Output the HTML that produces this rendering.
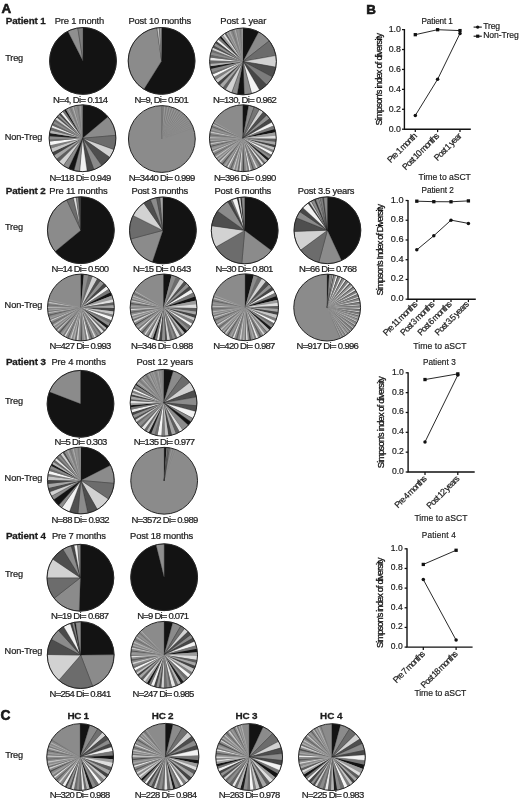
<!DOCTYPE html>
<html lang="en"><head><meta charset="utf-8"><title>Figure</title>
<style>html,body{margin:0;padding:0;background:#fff}svg{display:block;will-change:transform}text{font-family:"Liberation Sans",Arial,sans-serif;fill:#1c1c1c}</style>
</head><body>
<svg width="520" height="799" viewBox="0 0 520 799">
<rect width="520" height="799" fill="#ffffff"/>
<text x="1.60" y="13.30" font-size="13.4" font-weight="bold" fill="#0a0a0a" stroke="#0a0a0a" stroke-width="0.55">A</text>
<text x="366.30" y="13.70" font-size="13.4" font-weight="bold" fill="#0a0a0a" stroke="#0a0a0a" stroke-width="0.55">B</text>
<text x="0.60" y="720.40" font-size="13.8" font-weight="bold" fill="#0a0a0a" stroke="#0a0a0a" stroke-width="0.55">C</text>
<text x="5.80" y="23.60" font-size="9.8" font-weight="bold" textLength="40.00" lengthAdjust="spacing" stroke="#1c1c1c" stroke-width="0.3">Patient 1</text>
<text x="54.70" y="23.60" font-size="9.4" textLength="49.50" lengthAdjust="spacing" stroke="#1c1c1c" stroke-width="0.22">Pre 1 month</text>
<text x="128.50" y="23.60" font-size="9.4" textLength="62.80" lengthAdjust="spacing" stroke="#1c1c1c" stroke-width="0.22">Post 10 months</text>
<text x="220.30" y="23.60" font-size="9.4" textLength="46.00" lengthAdjust="spacing" stroke="#1c1c1c" stroke-width="0.22">Post 1 year</text>
<text x="5.20" y="61.30" font-size="9.2" textLength="18.00" lengthAdjust="spacing" stroke="#1c1c1c" stroke-width="0.22">Treg</text>
<text x="4.70" y="139.60" font-size="9.2" textLength="37.60" lengthAdjust="spacing" stroke="#1c1c1c" stroke-width="0.22">Non-Treg</text>
<g>
<circle cx="83.00" cy="60.95" r="33.40" fill="#8b8b8b"/>
<path d="M83.00 60.95L83.00 27.55A33.40 33.40 0 1 1 67.84 31.19Z" fill="#131313" stroke="#222" stroke-width="0.3"/>
<path d="M83.00 60.95L67.84 31.19A33.40 33.40 0 0 1 77.78 27.96Z" fill="#8f8f8f" stroke="#222" stroke-width="0.3"/>
<path d="M83.00 60.95L77.78 27.96A33.40 33.40 0 0 1 83.00 27.55Z" fill="#7d7d7d" stroke="#222" stroke-width="0.3"/>
<circle cx="83.00" cy="60.95" r="33.40" fill="none" stroke="#262626" stroke-width="1"/>
</g>
<g>
<circle cx="161.60" cy="60.90" r="33.40" fill="#8b8b8b"/>
<path d="M161.60 60.90L161.60 27.50A33.40 33.40 0 1 1 143.90 89.22Z" fill="#131313" stroke="#222" stroke-width="0.3"/>
<path d="M161.60 60.90L143.90 89.22A33.40 33.40 0 0 1 156.95 27.83Z" fill="#8b8b8b" stroke="#222" stroke-width="0.3"/>
<path d="M161.60 60.90L156.95 27.83A33.40 33.40 0 0 1 159.27 27.58Z" fill="#c8c8c8" stroke="#222" stroke-width="0.3"/>
<path d="M161.60 60.90L159.27 27.58A33.40 33.40 0 0 1 161.60 27.50Z" fill="#9a9a9a" stroke="#222" stroke-width="0.3"/>
<circle cx="161.60" cy="60.90" r="33.40" fill="none" stroke="#262626" stroke-width="1"/>
</g>
<g>
<circle cx="243.00" cy="61.40" r="33.40" fill="#8b8b8b"/>
<path d="M243.00 61.40L243.00 28.00A33.40 33.40 0 0 1 258.68 31.91Z" fill="#131313" stroke="#222" stroke-width="0.3"/>
<path d="M243.00 61.40L258.68 31.91A33.40 33.40 0 0 1 269.32 40.84Z" fill="#8b8b8b" stroke="#222" stroke-width="0.3"/>
<path d="M243.00 61.40L269.32 40.84A33.40 33.40 0 0 1 275.89 55.60Z" fill="#6c6c6c" stroke="#222" stroke-width="0.3"/>
<path d="M243.00 61.40L275.89 55.60A33.40 33.40 0 0 1 275.89 67.20Z" fill="#d2d2d2" stroke="#222" stroke-width="0.3"/>
<path d="M243.00 61.40L275.89 67.20A33.40 33.40 0 0 1 272.49 77.08Z" fill="#4e4e4e" stroke="#222" stroke-width="0.3"/>
<path d="M243.00 61.40L272.49 77.08A33.40 33.40 0 0 1 266.62 85.02Z" fill="#7c7c7c" stroke="#222" stroke-width="0.3"/>
<path d="M243.00 61.40L266.62 85.02A33.40 33.40 0 0 1 259.70 90.33Z" fill="#464646" stroke="#222" stroke-width="0.3"/>
<path d="M243.00 61.40L259.70 90.33A33.40 33.40 0 0 1 251.64 93.66Z" fill="#f2f2f2" stroke="#222" stroke-width="0.3"/>
<path d="M243.00 61.40L251.64 93.66A33.40 33.40 0 0 1 244.17 94.78Z" fill="#8b8b8b" stroke="#222" stroke-width="0.3"/>
<path d="M243.00 61.40L244.17 94.78A33.40 33.40 0 0 1 237.20 94.29Z" fill="#131313" stroke="#222" stroke-width="0.3"/>
<path d="M243.00 61.40L237.20 94.29A33.40 33.40 0 0 1 231.58 92.79Z" fill="#8b8b8b" stroke="#222" stroke-width="0.3"/>
<path d="M243.00 61.40L231.58 92.79A33.40 33.40 0 0 1 225.30 89.72Z" fill="#d2d2d2" stroke="#222" stroke-width="0.3"/>
<path d="M243.00 61.40L225.30 89.72A33.40 33.40 0 0 1 222.52 87.78Z" fill="#5e5e5e"/>
<path d="M243.00 61.40L222.52 87.78A33.40 33.40 0 0 1 219.70 85.33Z" fill="#a6a6a6"/>
<path d="M243.00 61.40L219.70 85.33A33.40 33.40 0 0 1 217.42 82.87Z" fill="#444444"/>
<path d="M243.00 61.40L217.42 82.87A33.40 33.40 0 0 1 215.26 80.01Z" fill="#c6c6c6"/>
<path d="M243.00 61.40L215.26 80.01A33.40 33.40 0 0 1 213.47 77.01Z" fill="#7e7e7e"/>
<path d="M243.00 61.40L213.47 77.01A33.40 33.40 0 0 1 212.32 74.61Z" fill="#f6f6f6"/>
<path d="M243.00 61.40L212.32 74.61A33.40 33.40 0 0 1 211.41 72.25Z" fill="#6e6e6e"/>
<path d="M243.00 61.40L211.41 72.25A33.40 33.40 0 0 1 210.45 68.91Z" fill="#8b8b8b"/>
<path d="M243.00 61.40L210.45 68.91A33.40 33.40 0 0 1 209.96 66.27Z" fill="#1c1c1c"/>
<path d="M243.00 61.40L209.96 66.27A33.40 33.40 0 0 1 209.68 63.69Z" fill="#b4b4b4"/>
<path d="M243.00 61.40L209.68 63.69A33.40 33.40 0 0 1 209.62 60.30Z" fill="#686868"/>
<path d="M243.00 61.40L209.62 60.30A33.40 33.40 0 0 1 209.82 57.60Z" fill="#e6e6e6"/>
<path d="M243.00 61.40L209.82 57.60A33.40 33.40 0 0 1 210.30 54.61Z" fill="#666666"/>
<path d="M243.00 61.40L210.30 54.61A33.40 33.40 0 0 1 210.92 52.11Z" fill="#8b8b8b"/>
<path d="M243.00 61.40L210.92 52.11A33.40 33.40 0 0 1 211.77 49.57Z" fill="#6c6c6c"/>
<path d="M243.00 61.40L211.77 49.57A33.40 33.40 0 0 1 212.58 47.60Z" fill="#d2d2d2"/>
<path d="M243.00 61.40L212.58 47.60A33.40 33.40 0 0 1 213.73 45.31Z" fill="#505050"/>
<path d="M243.00 61.40L213.73 45.31A33.40 33.40 0 0 1 215.14 42.99Z" fill="#929292"/>
<path d="M243.00 61.40L215.14 42.99A33.40 33.40 0 0 1 216.49 41.08Z" fill="#464646"/>
<path d="M243.00 61.40L216.49 41.08A33.40 33.40 0 0 1 218.07 39.17Z" fill="#f0f0f0"/>
<path d="M243.00 61.40L218.07 39.17A33.40 33.40 0 0 1 219.70 37.47Z" fill="#767676"/>
<path d="M243.00 61.40L219.70 37.47A33.40 33.40 0 0 1 221.02 36.26Z" fill="#141414"/>
<path d="M243.00 61.40L221.02 36.26A33.40 33.40 0 0 1 222.84 34.77Z" fill="#9c9c9c"/>
<path d="M243.00 61.40L222.84 34.77A33.40 33.40 0 0 1 224.60 33.53Z" fill="#dedede"/>
<path d="M243.00 61.40L224.60 33.53A33.40 33.40 0 0 1 226.19 32.54Z" fill="#5e5e5e"/>
<path d="M243.00 61.40L226.19 32.54A33.40 33.40 0 0 1 227.32 31.91Z" fill="#a6a6a6"/>
<path d="M243.00 61.40L227.32 31.91A33.40 33.40 0 0 1 228.82 31.16Z" fill="#8b8b8b"/>
<path d="M243.00 61.40L228.82 31.16A33.40 33.40 0 0 1 230.16 30.57Z" fill="#aaaaaa"/>
<path d="M243.00 61.40L230.16 30.57A33.40 33.40 0 0 1 231.57 30.02Z" fill="#8b8b8b"/>
<path d="M243.00 61.40L231.57 30.02A33.40 33.40 0 0 1 233.04 29.52Z" fill="#787878"/>
<path d="M243.00 61.40L233.04 29.52A33.40 33.40 0 0 1 234.41 29.12Z" fill="#8b8b8b"/>
<path d="M243.00 61.40L234.41 29.12A33.40 33.40 0 0 1 235.83 28.78Z" fill="#ababab"/>
<path d="M243.00 61.40L235.83 28.78A33.40 33.40 0 0 1 237.03 28.54Z" fill="#858585"/>
<path d="M243.00 61.40L237.03 28.54A33.40 33.40 0 0 1 238.35 28.32Z" fill="#939393"/>
<path d="M243.00 61.40L238.35 28.32A33.40 33.40 0 0 1 239.52 28.18Z" fill="#8b8b8b"/>
<path d="M243.00 61.40L239.52 28.18A33.40 33.40 0 0 1 240.82 28.07Z" fill="#7a7a7a"/>
<path d="M243.00 61.40L240.82 28.07A33.40 33.40 0 0 1 242.07 28.01Z" fill="#8b8b8b"/>
<path d="M243.00 61.40L242.07 28.01A33.40 33.40 0 0 1 243.00 28.00Z" fill="#9b9b9b"/>
<circle cx="243.00" cy="61.40" r="33.40" fill="none" stroke="#262626" stroke-width="1"/>
</g>
<text x="53.00" y="102.80" font-size="9.5" textLength="55.10" lengthAdjust="spacing" stroke="#1c1c1c" stroke-width="0.22">N=4, Di= 0.114</text>
<text x="134.50" y="102.80" font-size="9.5" textLength="54.20" lengthAdjust="spacing" stroke="#1c1c1c" stroke-width="0.22">N=9, Di= 0.501</text>
<text x="213.00" y="102.80" font-size="9.5" textLength="63.90" lengthAdjust="spacing" stroke="#1c1c1c" stroke-width="0.22">N=130, Di= 0.962</text>
<g>
<circle cx="82.50" cy="138.25" r="33.40" fill="#8b8b8b"/>
<path d="M82.50 138.25L82.50 104.85A33.40 33.40 0 0 1 108.09 116.78Z" fill="#131313" stroke="#222" stroke-width="0.3"/>
<path d="M82.50 138.25L108.09 116.78A33.40 33.40 0 0 1 115.77 135.34Z" fill="#8b8b8b" stroke="#222" stroke-width="0.3"/>
<path d="M82.50 138.25L115.77 135.34A33.40 33.40 0 0 1 113.89 149.67Z" fill="#6c6c6c" stroke="#222" stroke-width="0.3"/>
<path d="M82.50 138.25L113.89 149.67A33.40 33.40 0 0 1 109.86 157.41Z" fill="#d2d2d2" stroke="#222" stroke-width="0.3"/>
<path d="M82.50 138.25L109.86 157.41A33.40 33.40 0 0 1 101.66 165.61Z" fill="#4e4e4e" stroke="#222" stroke-width="0.3"/>
<path d="M82.50 138.25L101.66 165.61A33.40 33.40 0 0 1 93.92 169.64Z" fill="#8b8b8b" stroke="#222" stroke-width="0.3"/>
<path d="M82.50 138.25L93.92 169.64A33.40 33.40 0 0 1 87.15 171.32Z" fill="#4a4a4a" stroke="#222" stroke-width="0.3"/>
<path d="M82.50 138.25L87.15 171.32A33.40 33.40 0 0 1 79.59 171.52Z" fill="#f2f2f2" stroke="#222" stroke-width="0.3"/>
<path d="M82.50 138.25L79.59 171.52A33.40 33.40 0 0 1 73.86 170.51Z" fill="#8b8b8b" stroke="#222" stroke-width="0.3"/>
<path d="M82.50 138.25L73.86 170.51A33.40 33.40 0 0 1 68.38 168.52Z" fill="#131313" stroke="#222" stroke-width="0.3"/>
<path d="M82.50 138.25L68.38 168.52A33.40 33.40 0 0 1 63.34 165.61Z" fill="#8b8b8b" stroke="#222" stroke-width="0.3"/>
<path d="M82.50 138.25L63.34 165.61A33.40 33.40 0 0 1 58.88 161.87Z" fill="#d2d2d2" stroke="#222" stroke-width="0.3"/>
<path d="M82.50 138.25L58.88 161.87A33.40 33.40 0 0 1 56.25 158.90Z" fill="#5e5e5e"/>
<path d="M82.50 138.25L56.25 158.90A33.40 33.40 0 0 1 53.97 155.62Z" fill="#a6a6a6"/>
<path d="M82.50 138.25L53.97 155.62A33.40 33.40 0 0 1 52.15 152.19Z" fill="#444444"/>
<path d="M82.50 138.25L52.15 152.19A33.40 33.40 0 0 1 50.72 148.53Z" fill="#c6c6c6"/>
<path d="M82.50 138.25L50.72 148.53A33.40 33.40 0 0 1 49.82 145.13Z" fill="#7e7e7e"/>
<path d="M82.50 138.25L49.82 145.13A33.40 33.40 0 0 1 49.26 141.57Z" fill="#f6f6f6"/>
<path d="M82.50 138.25L49.26 141.57A33.40 33.40 0 0 1 49.11 139.16Z" fill="#6e6e6e"/>
<path d="M82.50 138.25L49.11 139.16A33.40 33.40 0 0 1 49.16 136.30Z" fill="#8b8b8b"/>
<path d="M82.50 138.25L49.16 136.30A33.40 33.40 0 0 1 49.51 133.01Z" fill="#1c1c1c"/>
<path d="M82.50 138.25L49.51 133.01A33.40 33.40 0 0 1 50.09 130.19Z" fill="#b4b4b4"/>
<path d="M82.50 138.25L50.09 130.19A33.40 33.40 0 0 1 50.96 127.27Z" fill="#686868"/>
<path d="M82.50 138.25L50.96 127.27A33.40 33.40 0 0 1 51.73 125.25Z" fill="#e6e6e6"/>
<path d="M82.50 138.25L51.73 125.25A33.40 33.40 0 0 1 52.77 123.02Z" fill="#666666"/>
<path d="M82.50 138.25L52.77 123.02A33.40 33.40 0 0 1 53.83 121.12Z" fill="#8b8b8b"/>
<path d="M82.50 138.25L53.83 121.12A33.40 33.40 0 0 1 55.14 119.09Z" fill="#6c6c6c"/>
<path d="M82.50 138.25L55.14 119.09A33.40 33.40 0 0 1 56.58 117.19Z" fill="#d2d2d2"/>
<path d="M82.50 138.25L56.58 117.19A33.40 33.40 0 0 1 57.76 115.81Z" fill="#505050"/>
<path d="M82.50 138.25L57.76 115.81A33.40 33.40 0 0 1 59.12 114.40Z" fill="#929292"/>
<path d="M82.50 138.25L59.12 114.40A33.40 33.40 0 0 1 60.57 113.06Z" fill="#464646"/>
<path d="M82.50 138.25L60.57 113.06A33.40 33.40 0 0 1 62.49 111.50Z" fill="#f0f0f0"/>
<path d="M82.50 138.25L62.49 111.50A33.40 33.40 0 0 1 64.37 110.20Z" fill="#767676"/>
<path d="M82.50 138.25L64.37 110.20A33.40 33.40 0 0 1 65.80 109.32Z" fill="#141414"/>
<path d="M82.50 138.25L65.80 109.32A33.40 33.40 0 0 1 67.25 108.54Z" fill="#8b8b8b"/>
<path d="M82.50 138.25L67.25 108.54A33.40 33.40 0 0 1 68.43 107.96Z" fill="#aaaaaa"/>
<path d="M82.50 138.25L68.43 107.96A33.40 33.40 0 0 1 69.79 107.36Z" fill="#8b8b8b"/>
<path d="M82.50 138.25L69.79 107.36A33.40 33.40 0 0 1 70.95 106.91Z" fill="#787878"/>
<path d="M82.50 138.25L70.95 106.91A33.40 33.40 0 0 1 72.05 106.53Z" fill="#8b8b8b"/>
<path d="M82.50 138.25L72.05 106.53A33.40 33.40 0 0 1 73.47 106.09Z" fill="#adadad"/>
<path d="M82.50 138.25L73.47 106.09A33.40 33.40 0 0 1 74.62 105.79Z" fill="#848484"/>
<path d="M82.50 138.25L74.62 105.79A33.40 33.40 0 0 1 75.75 105.54Z" fill="#939393"/>
<path d="M82.50 138.25L75.75 105.54A33.40 33.40 0 0 1 77.14 105.28Z" fill="#8b8b8b"/>
<path d="M82.50 138.25L77.14 105.28A33.40 33.40 0 0 1 78.46 105.09Z" fill="#787878"/>
<path d="M82.50 138.25L78.46 105.09A33.40 33.40 0 0 1 79.55 104.98Z" fill="#8b8b8b"/>
<path d="M82.50 138.25L79.55 104.98A33.40 33.40 0 0 1 80.84 104.89Z" fill="#9e9e9e"/>
<path d="M82.50 138.25L80.84 104.89A33.40 33.40 0 0 1 81.96 104.85Z" fill="#848484"/>
<path d="M82.50 138.25L81.96 104.85A33.40 33.40 0 0 1 82.50 104.85Z" fill="#939393"/>
<circle cx="82.50" cy="138.25" r="33.40" fill="none" stroke="#262626" stroke-width="1"/>
</g>
<g>
<circle cx="161.85" cy="139.00" r="33.40" fill="#8b8b8b"/>
<line x1="161.85" y1="139.00" x2="161.85" y2="105.60" stroke="#404040" stroke-opacity="0.8" stroke-width="0.55"/>
<line x1="162.03" y1="135.00" x2="163.37" y2="105.63" stroke="#4a4a4a" stroke-opacity="0.58" stroke-width="0.45"/>
<line x1="162.21" y1="135.01" x2="164.86" y2="105.74" stroke="#c4c4c4" stroke-opacity="0.57" stroke-width="0.45"/>
<line x1="162.39" y1="135.03" x2="166.33" y2="105.90" stroke="#4a4a4a" stroke-opacity="0.55" stroke-width="0.45"/>
<line x1="162.56" y1="135.06" x2="167.77" y2="106.13" stroke="#c4c4c4" stroke-opacity="0.53" stroke-width="0.45"/>
<line x1="162.73" y1="135.09" x2="169.18" y2="106.41" stroke="#4a4a4a" stroke-opacity="0.52" stroke-width="0.45"/>
<line x1="162.90" y1="135.13" x2="170.56" y2="106.76" stroke="#c4c4c4" stroke-opacity="0.50" stroke-width="0.45"/>
<line x1="163.06" y1="135.18" x2="171.91" y2="107.15" stroke="#4a4a4a" stroke-opacity="0.48" stroke-width="0.45"/>
<line x1="163.21" y1="135.23" x2="173.22" y2="107.59" stroke="#c4c4c4" stroke-opacity="0.47" stroke-width="0.45"/>
<line x1="163.37" y1="135.29" x2="174.50" y2="108.09" stroke="#4a4a4a" stroke-opacity="0.45" stroke-width="0.45"/>
<line x1="163.52" y1="135.35" x2="175.74" y2="108.62" stroke="#c4c4c4" stroke-opacity="0.44" stroke-width="0.45"/>
<line x1="163.66" y1="135.42" x2="176.94" y2="109.20" stroke="#4a4a4a" stroke-opacity="0.42" stroke-width="0.45"/>
<line x1="163.80" y1="135.50" x2="178.10" y2="109.82" stroke="#c4c4c4" stroke-opacity="0.41" stroke-width="0.45"/>
<line x1="163.94" y1="135.58" x2="179.23" y2="110.48" stroke="#4a4a4a" stroke-opacity="0.39" stroke-width="0.45"/>
<line x1="164.07" y1="135.66" x2="180.31" y2="111.17" stroke="#c4c4c4" stroke-opacity="0.38" stroke-width="0.45"/>
<line x1="164.19" y1="135.75" x2="181.36" y2="111.89" stroke="#4a4a4a" stroke-opacity="0.36" stroke-width="0.45"/>
<line x1="164.31" y1="135.84" x2="182.36" y2="112.64" stroke="#c4c4c4" stroke-opacity="0.35" stroke-width="0.45"/>
<line x1="164.43" y1="135.93" x2="183.32" y2="113.41" stroke="#4a4a4a" stroke-opacity="0.33" stroke-width="0.45"/>
<line x1="164.54" y1="136.03" x2="184.24" y2="114.22" stroke="#c4c4c4" stroke-opacity="0.32" stroke-width="0.45"/>
<line x1="164.64" y1="136.12" x2="185.12" y2="115.04" stroke="#4a4a4a" stroke-opacity="0.31" stroke-width="0.45"/>
<line x1="164.74" y1="136.23" x2="185.96" y2="115.88" stroke="#c4c4c4" stroke-opacity="0.29" stroke-width="0.45"/>
<line x1="164.84" y1="136.33" x2="186.76" y2="116.75" stroke="#4a4a4a" stroke-opacity="0.28" stroke-width="0.45"/>
<line x1="164.93" y1="136.44" x2="187.52" y2="117.63" stroke="#c4c4c4" stroke-opacity="0.27" stroke-width="0.45"/>
<line x1="165.02" y1="136.54" x2="188.23" y2="118.52" stroke="#4a4a4a" stroke-opacity="0.25" stroke-width="0.45"/>
<line x1="165.10" y1="136.65" x2="188.91" y2="119.42" stroke="#c4c4c4" stroke-opacity="0.24" stroke-width="0.45"/>
<line x1="165.17" y1="136.76" x2="189.55" y2="120.34" stroke="#4a4a4a" stroke-opacity="0.23" stroke-width="0.45"/>
<line x1="165.25" y1="136.87" x2="190.15" y2="121.26" stroke="#c4c4c4" stroke-opacity="0.21" stroke-width="0.45"/>
<line x1="165.31" y1="136.98" x2="190.71" y2="122.20" stroke="#4a4a4a" stroke-opacity="0.20" stroke-width="0.45"/>
<line x1="165.38" y1="137.10" x2="191.24" y2="123.13" stroke="#c4c4c4" stroke-opacity="0.19" stroke-width="0.45"/>
<line x1="165.44" y1="137.21" x2="191.73" y2="124.08" stroke="#4a4a4a" stroke-opacity="0.18" stroke-width="0.45"/>
<line x1="165.49" y1="137.32" x2="192.18" y2="125.02" stroke="#c4c4c4" stroke-opacity="0.16" stroke-width="0.45"/>
<line x1="165.54" y1="137.44" x2="192.60" y2="125.97" stroke="#4a4a4a" stroke-opacity="0.15" stroke-width="0.45"/>
<line x1="165.59" y1="137.55" x2="192.99" y2="126.91" stroke="#c4c4c4" stroke-opacity="0.14" stroke-width="0.45"/>
<line x1="165.63" y1="137.66" x2="193.34" y2="127.86" stroke="#4a4a4a" stroke-opacity="0.13" stroke-width="0.45"/>
<circle cx="161.85" cy="139.00" r="33.40" fill="none" stroke="#262626" stroke-width="1"/>
</g>
<g>
<circle cx="242.85" cy="138.25" r="33.40" fill="#8b8b8b"/>
<path d="M242.85 138.25L242.85 104.85A33.40 33.40 0 0 1 248.65 105.36Z" fill="#131313" stroke="#222" stroke-width="0.3"/>
<path d="M242.85 138.25L248.65 105.36A33.40 33.40 0 0 1 254.27 106.86Z" fill="#8b8b8b" stroke="#222" stroke-width="0.3"/>
<path d="M242.85 138.25L254.27 106.86A33.40 33.40 0 0 1 259.55 109.32Z" fill="#767676" stroke="#222" stroke-width="0.3"/>
<path d="M242.85 138.25L259.55 109.32A33.40 33.40 0 0 1 263.41 111.93Z" fill="#d2d2d2" stroke="#222" stroke-width="0.3"/>
<path d="M242.85 138.25L263.41 111.93A33.40 33.40 0 0 1 266.88 115.05Z" fill="#4e4e4e" stroke="#222" stroke-width="0.3"/>
<path d="M242.85 138.25L266.88 115.05A33.40 33.40 0 0 1 269.87 118.62Z" fill="#929292" stroke="#222" stroke-width="0.3"/>
<path d="M242.85 138.25L269.87 118.62A33.40 33.40 0 0 1 272.06 122.06Z" fill="#484848" stroke="#222" stroke-width="0.3"/>
<path d="M242.85 138.25L272.06 122.06A33.40 33.40 0 0 1 273.82 125.74Z" fill="#f2f2f2" stroke="#222" stroke-width="0.3"/>
<path d="M242.85 138.25L273.82 125.74A33.40 33.40 0 0 1 274.96 129.07Z" fill="#767676"/>
<path d="M242.85 138.25L274.96 129.07A33.40 33.40 0 0 1 275.68 132.13Z" fill="#141414"/>
<path d="M242.85 138.25L275.68 132.13A33.40 33.40 0 0 1 276.16 135.85Z" fill="#9c9c9c"/>
<path d="M242.85 138.25L276.16 135.85A33.40 33.40 0 0 1 276.25 138.67Z" fill="#dedede"/>
<path d="M242.85 138.25L276.25 138.67A33.40 33.40 0 0 1 276.04 142.02Z" fill="#5e5e5e"/>
<path d="M242.85 138.25L276.04 142.02A33.40 33.40 0 0 1 275.56 145.01Z" fill="#a6a6a6"/>
<path d="M242.85 138.25L275.56 145.01A33.40 33.40 0 0 1 274.95 147.49Z" fill="#444444"/>
<path d="M242.85 138.25L274.95 147.49A33.40 33.40 0 0 1 273.97 150.37Z" fill="#c6c6c6"/>
<path d="M242.85 138.25L273.97 150.37A33.40 33.40 0 0 1 273.03 152.56Z" fill="#7e7e7e"/>
<path d="M242.85 138.25L273.03 152.56A33.40 33.40 0 0 1 271.73 155.03Z" fill="#f6f6f6"/>
<path d="M242.85 138.25L271.73 155.03A33.40 33.40 0 0 1 270.51 156.98Z" fill="#6e6e6e"/>
<path d="M242.85 138.25L270.51 156.98A33.40 33.40 0 0 1 269.17 158.81Z" fill="#8b8b8b"/>
<path d="M242.85 138.25L269.17 158.81A33.40 33.40 0 0 1 267.51 160.78Z" fill="#1c1c1c"/>
<path d="M242.85 138.25L267.51 160.78A33.40 33.40 0 0 1 265.44 162.85Z" fill="#b4b4b4"/>
<path d="M242.85 138.25L265.44 162.85A33.40 33.40 0 0 1 263.82 164.24Z" fill="#686868"/>
<path d="M242.85 138.25L263.82 164.24A33.40 33.40 0 0 1 262.08 165.56Z" fill="#e6e6e6"/>
<path d="M242.85 138.25L262.08 165.56A33.40 33.40 0 0 1 259.96 166.93Z" fill="#666666"/>
<path d="M242.85 138.25L259.96 166.93A33.40 33.40 0 0 1 259.55 167.18Z" fill="#8b8b8b"/>
<path d="M242.85 138.25L259.55 167.18A33.40 33.40 0 0 1 257.87 168.08Z" fill="#8b8b8b"/>
<path d="M242.85 138.25L257.87 168.08A33.40 33.40 0 0 1 256.25 168.85Z" fill="#d5d5d5"/>
<path d="M242.85 138.25L256.25 168.85A33.40 33.40 0 0 1 254.29 169.63Z" fill="#8b8b8b"/>
<path d="M242.85 138.25L254.29 169.63A33.40 33.40 0 0 1 252.80 170.13Z" fill="#5b5b5b"/>
<path d="M242.85 138.25L252.80 170.13A33.40 33.40 0 0 1 250.86 170.68Z" fill="#8b8b8b"/>
<path d="M242.85 138.25L250.86 170.68A33.40 33.40 0 0 1 249.21 171.04Z" fill="#eaeaea"/>
<path d="M242.85 138.25L249.21 171.04A33.40 33.40 0 0 1 247.63 171.31Z" fill="#797979"/>
<path d="M242.85 138.25L247.63 171.31A33.40 33.40 0 0 1 246.06 171.50Z" fill="#a5a5a5"/>
<path d="M242.85 138.25L246.06 171.50A33.40 33.40 0 0 1 244.39 171.61Z" fill="#8b8b8b"/>
<path d="M242.85 138.25L244.39 171.61A33.40 33.40 0 0 1 242.46 171.65Z" fill="#4a4a4a"/>
<path d="M242.85 138.25L242.46 171.65A33.40 33.40 0 0 1 240.88 171.59Z" fill="#8b8b8b"/>
<path d="M242.85 138.25L240.88 171.59A33.40 33.40 0 0 1 239.10 171.44Z" fill="#d8d8d8"/>
<path d="M242.85 138.25L239.10 171.44A33.40 33.40 0 0 1 237.32 171.19Z" fill="#6e6e6e"/>
<path d="M242.85 138.25L237.32 171.19A33.40 33.40 0 0 1 235.69 170.87Z" fill="#b2b2b2"/>
<path d="M242.85 138.25L235.69 170.87A33.40 33.40 0 0 1 234.01 170.46Z" fill="#8b8b8b"/>
<path d="M242.85 138.25L234.01 170.46A33.40 33.40 0 0 1 232.60 170.04Z" fill="#cacaca"/>
<path d="M242.85 138.25L232.60 170.04A33.40 33.40 0 0 1 231.22 169.56Z" fill="#8b8b8b"/>
<path d="M242.85 138.25L231.22 169.56A33.40 33.40 0 0 1 229.80 168.99Z" fill="#626262"/>
<path d="M242.85 138.25L229.80 168.99A33.40 33.40 0 0 1 228.20 168.26Z" fill="#8b8b8b"/>
<path d="M242.85 138.25L228.20 168.26A33.40 33.40 0 0 1 226.76 167.52Z" fill="#dddddd"/>
<path d="M242.85 138.25L226.76 167.52A33.40 33.40 0 0 1 225.42 166.74Z" fill="#7b7b7b"/>
<path d="M242.85 138.25L225.42 166.74A33.40 33.40 0 0 1 224.01 165.83Z" fill="#a2a2a2"/>
<path d="M242.85 138.25L224.01 165.83A33.40 33.40 0 0 1 222.71 164.89Z" fill="#8b8b8b"/>
<path d="M242.85 138.25L222.71 164.89A33.40 33.40 0 0 1 221.52 163.95Z" fill="#535353"/>
<path d="M242.85 138.25L221.52 163.95A33.40 33.40 0 0 1 220.20 162.80Z" fill="#8b8b8b"/>
<path d="M242.85 138.25L220.20 162.80A33.40 33.40 0 0 1 218.99 161.62Z" fill="#cccccc"/>
<path d="M242.85 138.25L218.99 161.62A33.40 33.40 0 0 1 217.99 160.56Z" fill="#727272"/>
<path d="M242.85 138.25L217.99 160.56A33.40 33.40 0 0 1 216.94 159.33Z" fill="#acacac"/>
<path d="M242.85 138.25L216.94 159.33A33.40 33.40 0 0 1 215.98 158.09Z" fill="#8b8b8b"/>
<path d="M242.85 138.25L215.98 158.09A33.40 33.40 0 0 1 214.99 156.67Z" fill="#c1c1c1"/>
<path d="M242.85 138.25L214.99 156.67A33.40 33.40 0 0 1 214.11 155.27Z" fill="#8b8b8b"/>
<path d="M242.85 138.25L214.11 155.27A33.40 33.40 0 0 1 213.41 154.02Z" fill="#686868"/>
<path d="M242.85 138.25L213.41 154.02A33.40 33.40 0 0 1 212.63 152.47Z" fill="#8b8b8b"/>
<path d="M242.85 138.25L212.63 152.47A33.40 33.40 0 0 1 212.08 151.25Z" fill="#d0d0d0"/>
<path d="M242.85 138.25L212.08 151.25A33.40 33.40 0 0 1 211.54 149.88Z" fill="#7e7e7e"/>
<path d="M242.85 138.25L211.54 149.88A33.40 33.40 0 0 1 211.02 148.36Z" fill="#9e9e9e"/>
<path d="M242.85 138.25L211.02 148.36A33.40 33.40 0 0 1 210.64 147.09Z" fill="#8b8b8b"/>
<path d="M242.85 138.25L210.64 147.09A33.40 33.40 0 0 1 210.28 145.66Z" fill="#5c5c5c"/>
<path d="M242.85 138.25L210.28 145.66A33.40 33.40 0 0 1 210.03 144.43Z" fill="#8b8b8b"/>
<path d="M242.85 138.25L210.03 144.43A33.40 33.40 0 0 1 209.78 142.91Z" fill="#c2c2c2"/>
<path d="M242.85 138.25L209.78 142.91A33.40 33.40 0 0 1 209.60 141.36Z" fill="#767676"/>
<path d="M242.85 138.25L209.60 141.36A33.40 33.40 0 0 1 209.49 139.90Z" fill="#a6a6a6"/>
<path d="M242.85 138.25L209.49 139.90A33.40 33.40 0 0 1 209.45 138.31Z" fill="#8b8b8b"/>
<path d="M242.85 138.25L209.45 138.31A33.40 33.40 0 0 1 209.47 136.97Z" fill="#b8b8b8"/>
<path d="M242.85 138.25L209.47 136.97A33.40 33.40 0 0 1 209.56 135.48Z" fill="#8b8b8b"/>
<path d="M242.85 138.25L209.56 135.48A33.40 33.40 0 0 1 209.72 134.05Z" fill="#6e6e6e"/>
<path d="M242.85 138.25L209.72 134.05A33.40 33.40 0 0 1 209.92 132.64Z" fill="#8b8b8b"/>
<path d="M242.85 138.25L209.92 132.64A33.40 33.40 0 0 1 210.18 131.30Z" fill="#c4c4c4"/>
<path d="M242.85 138.25L210.18 131.30A33.40 33.40 0 0 1 210.53 129.83Z" fill="#808080"/>
<path d="M242.85 138.25L210.53 129.83A33.40 33.40 0 0 1 210.95 128.34Z" fill="#9a9a9a"/>
<path d="M242.85 138.25L210.95 128.34A33.40 33.40 0 0 1 211.38 127.07Z" fill="#8b8b8b"/>
<path d="M242.85 138.25L211.38 127.07A33.40 33.40 0 0 1 211.88 125.75Z" fill="#656565"/>
<path d="M242.85 138.25L211.88 125.75A33.40 33.40 0 0 1 212.33 124.68Z" fill="#8b8b8b"/>
<path d="M242.85 138.25L212.33 124.68A33.40 33.40 0 0 1 212.93 123.41Z" fill="#b8b8b8"/>
<path d="M242.85 138.25L212.93 123.41A33.40 33.40 0 0 1 213.57 122.19Z" fill="#7a7a7a"/>
<path d="M242.85 138.25L213.57 122.19A33.40 33.40 0 0 1 213.92 121.55Z" fill="#a1a1a1"/>
<circle cx="242.85" cy="138.25" r="33.40" fill="none" stroke="#262626" stroke-width="1"/>
</g>
<text x="49.50" y="181.20" font-size="9.5" textLength="61.90" lengthAdjust="spacing" stroke="#1c1c1c" stroke-width="0.22">N=118 Di= 0.949</text>
<text x="128.70" y="181.20" font-size="9.5" textLength="66.70" lengthAdjust="spacing" stroke="#1c1c1c" stroke-width="0.22">N=3440 Di= 0.999</text>
<text x="213.90" y="181.20" font-size="9.5" textLength="62.50" lengthAdjust="spacing" stroke="#1c1c1c" stroke-width="0.22">N=396 Di= 0.990</text>
<text x="5.80" y="193.70" font-size="9.8" font-weight="bold" textLength="40.00" lengthAdjust="spacing" stroke="#1c1c1c" stroke-width="0.3">Patient 2</text>
<text x="49.30" y="193.70" font-size="9.4" textLength="58.50" lengthAdjust="spacing" stroke="#1c1c1c" stroke-width="0.22">Pre 11 months</text>
<text x="131.40" y="193.70" font-size="9.4" textLength="56.80" lengthAdjust="spacing" stroke="#1c1c1c" stroke-width="0.22">Post 3 months</text>
<text x="214.50" y="193.70" font-size="9.4" textLength="56.80" lengthAdjust="spacing" stroke="#1c1c1c" stroke-width="0.22">Post 6 months</text>
<text x="297.80" y="193.70" font-size="9.4" textLength="56.70" lengthAdjust="spacing" stroke="#1c1c1c" stroke-width="0.22">Post 3.5 years</text>
<text x="5.00" y="230.00" font-size="9.2" textLength="18.00" lengthAdjust="spacing" stroke="#1c1c1c" stroke-width="0.22">Treg</text>
<text x="4.60" y="308.00" font-size="9.2" textLength="37.80" lengthAdjust="spacing" stroke="#1c1c1c" stroke-width="0.22">Non-Treg</text>
<g>
<circle cx="80.85" cy="230.20" r="33.40" fill="#8b8b8b"/>
<path d="M80.85 230.20L80.85 196.80A33.40 33.40 0 1 1 55.08 251.45Z" fill="#131313" stroke="#222" stroke-width="0.3"/>
<path d="M80.85 230.20L55.08 251.45A33.40 33.40 0 0 1 66.73 199.93Z" fill="#8b8b8b" stroke="#222" stroke-width="0.3"/>
<path d="M80.85 230.20L66.73 199.93A33.40 33.40 0 0 1 73.34 197.66Z" fill="#6c6c6c" stroke="#222" stroke-width="0.3"/>
<path d="M80.85 230.20L73.34 197.66A33.40 33.40 0 0 1 76.20 197.13Z" fill="#e0e0e0" stroke="#222" stroke-width="0.3"/>
<path d="M80.85 230.20L76.20 197.13A33.40 33.40 0 0 1 78.52 196.88Z" fill="#8b8b8b" stroke="#222" stroke-width="0.3"/>
<path d="M80.85 230.20L78.52 196.88A33.40 33.40 0 0 1 80.85 196.80Z" fill="#3a3a3a" stroke="#222" stroke-width="0.3"/>
<circle cx="80.85" cy="230.20" r="33.40" fill="none" stroke="#262626" stroke-width="1"/>
</g>
<g>
<circle cx="162.90" cy="230.40" r="33.40" fill="#8b8b8b"/>
<path d="M162.90 230.40L162.90 197.00A33.40 33.40 0 1 1 152.30 262.07Z" fill="#131313" stroke="#222" stroke-width="0.3"/>
<path d="M162.90 230.40L152.30 262.07A33.40 33.40 0 0 1 130.64 239.04Z" fill="#8b8b8b" stroke="#222" stroke-width="0.3"/>
<path d="M162.90 230.40L130.64 239.04A33.40 33.40 0 0 1 133.01 215.50Z" fill="#6c6c6c" stroke="#222" stroke-width="0.3"/>
<path d="M162.90 230.40L133.01 215.50A33.40 33.40 0 0 1 143.74 203.04Z" fill="#d2d2d2" stroke="#222" stroke-width="0.3"/>
<path d="M162.90 230.40L143.74 203.04A33.40 33.40 0 0 1 150.39 199.43Z" fill="#4e4e4e" stroke="#222" stroke-width="0.3"/>
<path d="M162.90 230.40L150.39 199.43A33.40 33.40 0 0 1 156.53 197.61Z" fill="#8b8b8b" stroke="#222" stroke-width="0.3"/>
<path d="M162.90 230.40L156.53 197.61A33.40 33.40 0 0 1 159.99 197.13Z" fill="#585858" stroke="#222" stroke-width="0.3"/>
<path d="M162.90 230.40L159.99 197.13A33.40 33.40 0 0 1 162.90 197.00Z" fill="#a8a8a8" stroke="#222" stroke-width="0.3"/>
<circle cx="162.90" cy="230.40" r="33.40" fill="none" stroke="#262626" stroke-width="1"/>
</g>
<g>
<circle cx="244.70" cy="230.40" r="33.40" fill="#8b8b8b"/>
<path d="M244.70 230.40L244.70 197.00A33.40 33.40 0 0 1 271.37 250.50Z" fill="#131313" stroke="#222" stroke-width="0.3"/>
<path d="M244.70 230.40L271.37 250.50A33.40 33.40 0 0 1 241.79 263.67Z" fill="#8b8b8b" stroke="#222" stroke-width="0.3"/>
<path d="M244.70 230.40L241.79 263.67A33.40 33.40 0 0 1 215.77 247.10Z" fill="#6c6c6c" stroke="#222" stroke-width="0.3"/>
<path d="M244.70 230.40L215.77 247.10A33.40 33.40 0 0 1 211.63 225.75Z" fill="#d2d2d2" stroke="#222" stroke-width="0.3"/>
<path d="M244.70 230.40L211.63 225.75A33.40 33.40 0 0 1 217.51 211.00Z" fill="#4e4e4e" stroke="#222" stroke-width="0.3"/>
<path d="M244.70 230.40L217.51 211.00A33.40 33.40 0 0 1 227.75 201.62Z" fill="#8b8b8b" stroke="#222" stroke-width="0.3"/>
<path d="M244.70 230.40L227.75 201.62A33.40 33.40 0 0 1 230.58 200.13Z" fill="#444" stroke="#222" stroke-width="0.3"/>
<path d="M244.70 230.40L230.58 200.13A33.40 33.40 0 0 1 232.19 199.43Z" fill="#8b8b8b" stroke="#222" stroke-width="0.3"/>
<path d="M244.70 230.40L232.19 199.43A33.40 33.40 0 0 1 237.19 197.86Z" fill="#f2f2f2" stroke="#222" stroke-width="0.3"/>
<path d="M244.70 230.40L237.19 197.86A33.40 33.40 0 0 1 238.33 197.61Z" fill="#131313" stroke="#222" stroke-width="0.3"/>
<path d="M244.70 230.40L238.33 197.61A33.40 33.40 0 0 1 240.63 197.25Z" fill="#d8d8d8" stroke="#222" stroke-width="0.3"/>
<path d="M244.70 230.40L240.63 197.25A33.40 33.40 0 0 1 241.50 197.15Z" fill="#131313" stroke="#222" stroke-width="0.3"/>
<path d="M244.70 230.40L241.50 197.15A33.40 33.40 0 0 1 244.70 197.00Z" fill="#8b8b8b" stroke="#222" stroke-width="0.3"/>
<circle cx="244.70" cy="230.40" r="33.40" fill="none" stroke="#262626" stroke-width="1"/>
</g>
<g>
<circle cx="327.40" cy="230.25" r="33.40" fill="#8b8b8b"/>
<path d="M327.40 230.25L327.40 196.85A33.40 33.40 0 0 1 341.52 260.52Z" fill="#131313" stroke="#222" stroke-width="0.3"/>
<path d="M327.40 230.25L341.52 260.52A33.40 33.40 0 0 1 318.76 262.51Z" fill="#8b8b8b" stroke="#222" stroke-width="0.3"/>
<path d="M327.40 230.25L318.76 262.51A33.40 33.40 0 0 1 300.55 250.12Z" fill="#6c6c6c" stroke="#222" stroke-width="0.3"/>
<path d="M327.40 230.25L300.55 250.12A33.40 33.40 0 0 1 294.02 231.42Z" fill="#d2d2d2" stroke="#222" stroke-width="0.3"/>
<path d="M327.40 230.25L294.02 231.42A33.40 33.40 0 0 1 296.43 217.74Z" fill="#4e4e4e" stroke="#222" stroke-width="0.3"/>
<path d="M327.40 230.25L296.43 217.74A33.40 33.40 0 0 1 299.71 211.57Z" fill="#8b8b8b" stroke="#222" stroke-width="0.3"/>
<path d="M327.40 230.25L299.71 211.57A33.40 33.40 0 0 1 302.77 207.69Z" fill="#484848" stroke="#222" stroke-width="0.3"/>
<path d="M327.40 230.25L302.77 207.69A33.40 33.40 0 0 1 308.00 203.06Z" fill="#f2f2f2" stroke="#222" stroke-width="0.3"/>
<path d="M327.40 230.25L308.00 203.06A33.40 33.40 0 0 1 309.21 202.24Z" fill="#3a3a3a" stroke="#222" stroke-width="0.3"/>
<path d="M327.40 230.25L309.21 202.24A33.40 33.40 0 0 1 311.21 201.04Z" fill="#cfcfcf" stroke="#222" stroke-width="0.3"/>
<path d="M327.40 230.25L311.21 201.04A33.40 33.40 0 0 1 314.35 199.51Z" fill="#8b8b8b" stroke="#222" stroke-width="0.3"/>
<path d="M327.40 230.25L314.35 199.51A33.40 33.40 0 0 1 315.43 199.07Z" fill="#333" stroke="#222" stroke-width="0.3"/>
<path d="M327.40 230.25L315.43 199.07A33.40 33.40 0 0 1 318.76 197.99Z" fill="#8b8b8b" stroke="#222" stroke-width="0.3"/>
<path d="M327.40 230.25L318.76 197.99A33.40 33.40 0 0 1 319.89 197.71Z" fill="#d0d0d0" stroke="#222" stroke-width="0.3"/>
<path d="M327.40 230.25L319.89 197.71A33.40 33.40 0 0 1 322.75 197.18Z" fill="#808080" stroke="#222" stroke-width="0.3"/>
<path d="M327.40 230.25L322.75 197.18A33.40 33.40 0 0 1 323.62 197.06Z" fill="#5a5a5a" stroke="#222" stroke-width="0.3"/>
<path d="M327.40 230.25L323.62 197.06A33.40 33.40 0 0 1 327.40 196.85Z" fill="#8b8b8b" stroke="#222" stroke-width="0.3"/>
<circle cx="327.40" cy="230.25" r="33.40" fill="none" stroke="#262626" stroke-width="1"/>
</g>
<text x="51.50" y="271.60" font-size="9.5" textLength="57.60" lengthAdjust="spacing" stroke="#1c1c1c" stroke-width="0.22">N=14 Di= 0.500</text>
<text x="133.00" y="271.60" font-size="9.5" textLength="58.20" lengthAdjust="spacing" stroke="#1c1c1c" stroke-width="0.22">N=15 Di= 0.643</text>
<text x="215.50" y="271.60" font-size="9.5" textLength="57.90" lengthAdjust="spacing" stroke="#1c1c1c" stroke-width="0.22">N=30 Di= 0.801</text>
<text x="299.00" y="271.60" font-size="9.5" textLength="58.10" lengthAdjust="spacing" stroke="#1c1c1c" stroke-width="0.22">N=66 Di= 0.768</text>
<g>
<circle cx="80.90" cy="307.50" r="33.40" fill="#8b8b8b"/>
<path d="M80.90 307.50L80.90 274.10A33.40 33.40 0 0 1 83.81 274.23Z" fill="#131313" stroke="#222" stroke-width="0.3"/>
<path d="M80.90 307.50L83.81 274.23A33.40 33.40 0 0 1 88.33 274.94Z" fill="#8b8b8b"/>
<path d="M80.90 307.50L88.33 274.94A33.40 33.40 0 0 1 92.74 276.27Z" fill="#6c6c6c"/>
<path d="M80.90 307.50L92.74 276.27A33.40 33.40 0 0 1 97.34 278.43Z" fill="#d2d2d2"/>
<path d="M80.90 307.50L97.34 278.43A33.40 33.40 0 0 1 100.79 280.67Z" fill="#505050"/>
<path d="M80.90 307.50L100.79 280.67A33.40 33.40 0 0 1 103.91 283.29Z" fill="#929292"/>
<path d="M80.90 307.50L103.91 283.29A33.40 33.40 0 0 1 106.68 286.26Z" fill="#464646"/>
<path d="M80.90 307.50L106.68 286.26A33.40 33.40 0 0 1 108.66 288.93Z" fill="#f0f0f0"/>
<path d="M80.90 307.50L108.66 288.93A33.40 33.40 0 0 1 110.56 292.14Z" fill="#767676"/>
<path d="M80.90 307.50L110.56 292.14A33.40 33.40 0 0 1 112.11 295.61Z" fill="#141414"/>
<path d="M80.90 307.50L112.11 295.61A33.40 33.40 0 0 1 113.29 299.34Z" fill="#9c9c9c"/>
<path d="M80.90 307.50L113.29 299.34A33.40 33.40 0 0 1 113.87 302.13Z" fill="#dedede"/>
<path d="M80.90 307.50L113.87 302.13A33.40 33.40 0 0 1 114.22 305.18Z" fill="#5e5e5e"/>
<path d="M80.90 307.50L114.22 305.18A33.40 33.40 0 0 1 114.30 307.90Z" fill="#a6a6a6"/>
<path d="M80.90 307.50L114.30 307.90A33.40 33.40 0 0 1 114.06 311.47Z" fill="#444444"/>
<path d="M80.90 307.50L114.06 311.47A33.40 33.40 0 0 1 113.50 314.76Z" fill="#c6c6c6"/>
<path d="M80.90 307.50L113.50 314.76A33.40 33.40 0 0 1 112.88 317.15Z" fill="#7e7e7e"/>
<path d="M80.90 307.50L112.88 317.15A33.40 33.40 0 0 1 111.68 320.48Z" fill="#f6f6f6"/>
<path d="M80.90 307.50L111.68 320.48A33.40 33.40 0 0 1 110.19 323.56Z" fill="#6e6e6e"/>
<path d="M80.90 307.50L110.19 323.56A33.40 33.40 0 0 1 108.64 326.11Z" fill="#8b8b8b"/>
<path d="M80.90 307.50L108.64 326.11A33.40 33.40 0 0 1 106.93 328.43Z" fill="#1c1c1c"/>
<path d="M80.90 307.50L106.93 328.43A33.40 33.40 0 0 1 105.42 330.18Z" fill="#b4b4b4"/>
<path d="M80.90 307.50L105.42 330.18A33.40 33.40 0 0 1 103.92 331.70Z" fill="#686868"/>
<path d="M80.90 307.50L103.92 331.70A33.40 33.40 0 0 1 101.94 333.44Z" fill="#e6e6e6"/>
<path d="M80.90 307.50L101.94 333.44A33.40 33.40 0 0 1 100.27 334.71Z" fill="#666666"/>
<path d="M80.90 307.50L100.27 334.71A33.40 33.40 0 0 1 98.44 335.92Z" fill="#8b8b8b"/>
<path d="M80.90 307.50L98.44 335.92A33.40 33.40 0 0 1 97.60 336.43Z" fill="#6c6c6c"/>
<path d="M80.90 307.50L97.60 336.43A33.40 33.40 0 0 1 96.19 337.19Z" fill="#8b8b8b"/>
<path d="M80.90 307.50L96.19 337.19A33.40 33.40 0 0 1 94.54 337.99Z" fill="#d5d5d5"/>
<path d="M80.90 307.50L94.54 337.99A33.40 33.40 0 0 1 92.87 338.68Z" fill="#8b8b8b"/>
<path d="M80.90 307.50L92.87 338.68A33.40 33.40 0 0 1 90.97 339.35Z" fill="#5b5b5b"/>
<path d="M80.90 307.50L90.97 339.35A33.40 33.40 0 0 1 89.22 339.85Z" fill="#8b8b8b"/>
<path d="M80.90 307.50L89.22 339.85A33.40 33.40 0 0 1 87.39 340.26Z" fill="#eaeaea"/>
<path d="M80.90 307.50L87.39 340.26A33.40 33.40 0 0 1 85.62 340.56Z" fill="#797979"/>
<path d="M80.90 307.50L85.62 340.56A33.40 33.40 0 0 1 83.77 340.78Z" fill="#a5a5a5"/>
<path d="M80.90 307.50L83.77 340.78A33.40 33.40 0 0 1 82.04 340.88Z" fill="#8b8b8b"/>
<path d="M80.90 307.50L82.04 340.88A33.40 33.40 0 0 1 80.41 340.90Z" fill="#4b4b4b"/>
<path d="M80.90 307.50L80.41 340.90A33.40 33.40 0 0 1 78.41 340.81Z" fill="#8b8b8b"/>
<path d="M80.90 307.50L78.41 340.81A33.40 33.40 0 0 1 76.44 340.60Z" fill="#d6d6d6"/>
<path d="M80.90 307.50L76.44 340.60A33.40 33.40 0 0 1 74.58 340.30Z" fill="#6e6e6e"/>
<path d="M80.90 307.50L74.58 340.30A33.40 33.40 0 0 1 72.83 339.91Z" fill="#b1b1b1"/>
<path d="M80.90 307.50L72.83 339.91A33.40 33.40 0 0 1 71.29 339.49Z" fill="#8b8b8b"/>
<path d="M80.90 307.50L71.29 339.49A33.40 33.40 0 0 1 69.83 339.01Z" fill="#c9c9c9"/>
<path d="M80.90 307.50L69.83 339.01A33.40 33.40 0 0 1 68.38 338.46Z" fill="#8b8b8b"/>
<path d="M80.90 307.50L68.38 338.46A33.40 33.40 0 0 1 67.06 337.90Z" fill="#636363"/>
<path d="M80.90 307.50L67.06 337.90A33.40 33.40 0 0 1 65.47 337.12Z" fill="#8b8b8b"/>
<path d="M80.90 307.50L65.47 337.12A33.40 33.40 0 0 1 64.08 336.36Z" fill="#dadada"/>
<path d="M80.90 307.50L64.08 336.36A33.40 33.40 0 0 1 62.57 335.42Z" fill="#7c7c7c"/>
<path d="M80.90 307.50L62.57 335.42A33.40 33.40 0 0 1 61.29 334.54Z" fill="#a1a1a1"/>
<path d="M80.90 307.50L61.29 334.54A33.40 33.40 0 0 1 59.86 333.44Z" fill="#8b8b8b"/>
<path d="M80.90 307.50L59.86 333.44A33.40 33.40 0 0 1 58.53 332.30Z" fill="#565656"/>
<path d="M80.90 307.50L58.53 332.30A33.40 33.40 0 0 1 57.56 331.39Z" fill="#8b8b8b"/>
<path d="M80.90 307.50L57.56 331.39A33.40 33.40 0 0 1 56.57 330.38Z" fill="#cacaca"/>
<path d="M80.90 307.50L56.57 330.38A33.40 33.40 0 0 1 55.41 329.08Z" fill="#737373"/>
<path d="M80.90 307.50L55.41 329.08A33.40 33.40 0 0 1 54.45 327.90Z" fill="#aaaaaa"/>
<path d="M80.90 307.50L54.45 327.90A33.40 33.40 0 0 1 53.42 326.49Z" fill="#8b8b8b"/>
<path d="M80.90 307.50L53.42 326.49A33.40 33.40 0 0 1 52.62 325.27Z" fill="#bebebe"/>
<path d="M80.90 307.50L52.62 325.27A33.40 33.40 0 0 1 51.94 324.15Z" fill="#8b8b8b"/>
<path d="M80.90 307.50L51.94 324.15A33.40 33.40 0 0 1 51.20 322.78Z" fill="#6a6a6a"/>
<path d="M80.90 307.50L51.20 322.78A33.40 33.40 0 0 1 50.50 321.34Z" fill="#8b8b8b"/>
<path d="M80.90 307.50L50.50 321.34A33.40 33.40 0 0 1 49.96 320.08Z" fill="#cccccc"/>
<path d="M80.90 307.50L49.96 320.08A33.40 33.40 0 0 1 49.50 318.89Z" fill="#7e7e7e"/>
<path d="M80.90 307.50L49.50 318.89A33.40 33.40 0 0 1 49.06 317.59Z" fill="#9d9d9d"/>
<path d="M80.90 307.50L49.06 317.59A33.40 33.40 0 0 1 48.60 316.01Z" fill="#8b8b8b"/>
<path d="M80.90 307.50L48.60 316.01A33.40 33.40 0 0 1 48.24 314.51Z" fill="#5f5f5f"/>
<path d="M80.90 307.50L48.24 314.51A33.40 33.40 0 0 1 48.00 313.28Z" fill="#8b8b8b"/>
<path d="M80.90 307.50L48.00 313.28A33.40 33.40 0 0 1 47.80 311.99Z" fill="#bebebe"/>
<path d="M80.90 307.50L47.80 311.99A33.40 33.40 0 0 1 47.66 310.77Z" fill="#777777"/>
<path d="M80.90 307.50L47.66 310.77A33.40 33.40 0 0 1 47.56 309.57Z" fill="#a4a4a4"/>
<path d="M80.90 307.50L47.56 309.57A33.40 33.40 0 0 1 47.50 308.06Z" fill="#8b8b8b"/>
<path d="M80.90 307.50L47.50 308.06A33.40 33.40 0 0 1 47.51 306.82Z" fill="#b4b4b4"/>
<path d="M80.90 307.50L47.51 306.82A33.40 33.40 0 0 1 47.56 305.44Z" fill="#8b8b8b"/>
<path d="M80.90 307.50L47.56 305.44A33.40 33.40 0 0 1 47.67 304.11Z" fill="#707070"/>
<path d="M80.90 307.50L47.67 304.11A33.40 33.40 0 0 1 47.82 302.90Z" fill="#8b8b8b"/>
<path d="M80.90 307.50L47.82 302.90A33.40 33.40 0 0 1 48.05 301.49Z" fill="#c0c0c0"/>
<path d="M80.90 307.50L48.05 301.49A33.40 33.40 0 0 1 48.28 300.33Z" fill="#818181"/>
<path d="M80.90 307.50L48.28 300.33A33.40 33.40 0 0 1 48.60 299.00Z" fill="#999999"/>
<path d="M80.90 307.50L48.60 299.00A33.40 33.40 0 0 1 48.64 298.86Z" fill="#8b8b8b"/>
<circle cx="80.90" cy="307.50" r="33.40" fill="none" stroke="#262626" stroke-width="1"/>
</g>
<g>
<circle cx="163.55" cy="307.50" r="33.40" fill="#8b8b8b"/>
<path d="M163.55 307.50L163.55 274.10A33.40 33.40 0 0 1 171.63 275.09Z" fill="#131313" stroke="#222" stroke-width="0.3"/>
<path d="M163.55 307.50L171.63 275.09A33.40 33.40 0 0 1 176.02 276.51Z" fill="#8b8b8b"/>
<path d="M163.55 307.50L176.02 276.51A33.40 33.40 0 0 1 180.34 278.63Z" fill="#6c6c6c"/>
<path d="M163.55 307.50L180.34 278.63A33.40 33.40 0 0 1 184.23 281.27Z" fill="#d2d2d2"/>
<path d="M163.55 307.50L184.23 281.27A33.40 33.40 0 0 1 186.98 283.69Z" fill="#505050"/>
<path d="M163.55 307.50L186.98 283.69A33.40 33.40 0 0 1 189.25 286.17Z" fill="#929292"/>
<path d="M163.55 307.50L189.25 286.17A33.40 33.40 0 0 1 191.56 289.31Z" fill="#464646"/>
<path d="M163.55 307.50L191.56 289.31A33.40 33.40 0 0 1 193.38 292.47Z" fill="#f0f0f0"/>
<path d="M163.55 307.50L193.38 292.47A33.40 33.40 0 0 1 195.09 296.52Z" fill="#767676"/>
<path d="M163.55 307.50L195.09 296.52A33.40 33.40 0 0 1 196.20 300.47Z" fill="#141414"/>
<path d="M163.55 307.50L196.20 300.47A33.40 33.40 0 0 1 196.80 304.29Z" fill="#9c9c9c"/>
<path d="M163.55 307.50L196.80 304.29A33.40 33.40 0 0 1 196.95 308.01Z" fill="#dedede"/>
<path d="M163.55 307.50L196.95 308.01A33.40 33.40 0 0 1 196.67 311.78Z" fill="#5e5e5e"/>
<path d="M163.55 307.50L196.67 311.78A33.40 33.40 0 0 1 196.16 314.71Z" fill="#a6a6a6"/>
<path d="M163.55 307.50L196.16 314.71A33.40 33.40 0 0 1 195.28 317.92Z" fill="#444444"/>
<path d="M163.55 307.50L195.28 317.92A33.40 33.40 0 0 1 194.26 320.63Z" fill="#c6c6c6"/>
<path d="M163.55 307.50L194.26 320.63A33.40 33.40 0 0 1 192.57 324.04Z" fill="#7e7e7e"/>
<path d="M163.55 307.50L192.57 324.04A33.40 33.40 0 0 1 191.17 326.28Z" fill="#f6f6f6"/>
<path d="M163.55 307.50L191.17 326.28A33.40 33.40 0 0 1 189.01 329.12Z" fill="#6e6e6e"/>
<path d="M163.55 307.50L189.01 329.12A33.40 33.40 0 0 1 187.28 331.01Z" fill="#8b8b8b"/>
<path d="M163.55 307.50L187.28 331.01A33.40 33.40 0 0 1 184.87 333.21Z" fill="#1c1c1c"/>
<path d="M163.55 307.50L184.87 333.21A33.40 33.40 0 0 1 182.65 334.90Z" fill="#b4b4b4"/>
<path d="M163.55 307.50L182.65 334.90A33.40 33.40 0 0 1 180.27 336.41Z" fill="#686868"/>
<path d="M163.55 307.50L180.27 336.41A33.40 33.40 0 0 1 177.35 337.91Z" fill="#e6e6e6"/>
<path d="M163.55 307.50L177.35 337.91A33.40 33.40 0 0 1 175.25 338.79Z" fill="#666666"/>
<path d="M163.55 307.50L175.25 338.79A33.40 33.40 0 0 1 173.07 339.52Z" fill="#8b8b8b"/>
<path d="M163.55 307.50L173.07 339.52A33.40 33.40 0 0 1 169.96 340.28Z" fill="#6c6c6c"/>
<path d="M163.55 307.50L169.96 340.28A33.40 33.40 0 0 1 167.28 340.69Z" fill="#d2d2d2"/>
<path d="M163.55 307.50L167.28 340.69A33.40 33.40 0 0 1 165.07 340.87Z" fill="#505050"/>
<path d="M163.55 307.50L165.07 340.87A33.40 33.40 0 0 1 161.95 340.86Z" fill="#929292"/>
<path d="M163.55 307.50L161.95 340.86A33.40 33.40 0 0 1 158.93 340.58Z" fill="#464646"/>
<path d="M163.55 307.50L158.93 340.58A33.40 33.40 0 0 1 156.83 340.22Z" fill="#f0f0f0"/>
<path d="M163.55 307.50L156.83 340.22A33.40 33.40 0 0 1 154.49 339.65Z" fill="#767676"/>
<path d="M163.55 307.50L154.49 339.65A33.40 33.40 0 0 1 152.49 339.02Z" fill="#141414"/>
<path d="M163.55 307.50L152.49 339.02A33.40 33.40 0 0 1 150.41 338.21Z" fill="#9c9c9c"/>
<path d="M163.55 307.50L150.41 338.21A33.40 33.40 0 0 1 148.14 337.13Z" fill="#dedede"/>
<path d="M163.55 307.50L148.14 337.13A33.40 33.40 0 0 1 146.85 336.43Z" fill="#5e5e5e"/>
<path d="M163.55 307.50L146.85 336.43A33.40 33.40 0 0 1 145.17 335.39Z" fill="#8b8b8b"/>
<path d="M163.55 307.50L145.17 335.39A33.40 33.40 0 0 1 143.86 334.48Z" fill="#d4d4d4"/>
<path d="M163.55 307.50L143.86 334.48A33.40 33.40 0 0 1 142.55 333.47Z" fill="#8b8b8b"/>
<path d="M163.55 307.50L142.55 333.47A33.40 33.40 0 0 1 141.05 332.18Z" fill="#5b5b5b"/>
<path d="M163.55 307.50L141.05 332.18A33.40 33.40 0 0 1 139.80 330.98Z" fill="#8b8b8b"/>
<path d="M163.55 307.50L139.80 330.98A33.40 33.40 0 0 1 138.62 329.72Z" fill="#e9e9e9"/>
<path d="M163.55 307.50L138.62 329.72A33.40 33.40 0 0 1 137.45 328.35Z" fill="#797979"/>
<path d="M163.55 307.50L137.45 328.35A33.40 33.40 0 0 1 136.42 326.97Z" fill="#a5a5a5"/>
<path d="M163.55 307.50L136.42 326.97A33.40 33.40 0 0 1 135.48 325.61Z" fill="#8b8b8b"/>
<path d="M163.55 307.50L135.48 325.61A33.40 33.40 0 0 1 134.72 324.37Z" fill="#4c4c4c"/>
<path d="M163.55 307.50L134.72 324.37A33.40 33.40 0 0 1 133.86 322.79Z" fill="#8b8b8b"/>
<path d="M163.55 307.50L133.86 322.79A33.40 33.40 0 0 1 133.04 321.08Z" fill="#d5d5d5"/>
<path d="M163.55 307.50L133.04 321.08A33.40 33.40 0 0 1 132.32 319.35Z" fill="#6f6f6f"/>
<path d="M163.55 307.50L132.32 319.35A33.40 33.40 0 0 1 131.76 317.74Z" fill="#b0b0b0"/>
<path d="M163.55 307.50L131.76 317.74A33.40 33.40 0 0 1 131.32 316.27Z" fill="#8b8b8b"/>
<path d="M163.55 307.50L131.32 316.27A33.40 33.40 0 0 1 130.96 314.80Z" fill="#c7c7c7"/>
<path d="M163.55 307.50L130.96 314.80A33.40 33.40 0 0 1 130.63 313.17Z" fill="#8b8b8b"/>
<path d="M163.55 307.50L130.63 313.17A33.40 33.40 0 0 1 130.40 311.55Z" fill="#646464"/>
<path d="M163.55 307.50L130.40 311.55A33.40 33.40 0 0 1 130.26 310.20Z" fill="#8b8b8b"/>
<path d="M163.55 307.50L130.26 310.20A33.40 33.40 0 0 1 130.18 308.80Z" fill="#d7d7d7"/>
<path d="M163.55 307.50L130.18 308.80A33.40 33.40 0 0 1 130.15 307.36Z" fill="#7c7c7c"/>
<path d="M163.55 307.50L130.15 307.36A33.40 33.40 0 0 1 130.19 305.86Z" fill="#a0a0a0"/>
<path d="M163.55 307.50L130.19 305.86A33.40 33.40 0 0 1 130.31 304.26Z" fill="#8b8b8b"/>
<path d="M163.55 307.50L130.31 304.26A33.40 33.40 0 0 1 130.48 302.81Z" fill="#585858"/>
<path d="M163.55 307.50L130.48 302.81A33.40 33.40 0 0 1 130.68 301.59Z" fill="#8b8b8b"/>
<path d="M163.55 307.50L130.68 301.59A33.40 33.40 0 0 1 130.99 300.05Z" fill="#c6c6c6"/>
<path d="M163.55 307.50L130.99 300.05A33.40 33.40 0 0 1 131.33 298.71Z" fill="#747474"/>
<path d="M163.55 307.50L131.33 298.71A33.40 33.40 0 0 1 131.73 297.36Z" fill="#a8a8a8"/>
<path d="M163.55 307.50L131.73 297.36A33.40 33.40 0 0 1 132.13 296.16Z" fill="#8b8b8b"/>
<path d="M163.55 307.50L132.13 296.16A33.40 33.40 0 0 1 132.61 294.91Z" fill="#bbbbbb"/>
<path d="M163.55 307.50L132.61 294.91A33.40 33.40 0 0 1 133.13 293.71Z" fill="#8b8b8b"/>
<path d="M163.55 307.50L133.13 293.71A33.40 33.40 0 0 1 133.76 292.40Z" fill="#6c6c6c"/>
<path d="M163.55 307.50L133.76 292.40A33.40 33.40 0 0 1 134.30 291.37Z" fill="#8b8b8b"/>
<path d="M163.55 307.50L134.30 291.37A33.40 33.40 0 0 1 134.62 290.80Z" fill="#c8c8c8"/>
<circle cx="163.55" cy="307.50" r="33.40" fill="none" stroke="#262626" stroke-width="1"/>
</g>
<g>
<circle cx="245.15" cy="307.30" r="33.40" fill="#8b8b8b"/>
<path d="M245.15 307.30L245.15 273.90A33.40 33.40 0 0 1 253.79 275.04Z" fill="#131313" stroke="#222" stroke-width="0.3"/>
<path d="M245.15 307.30L253.79 275.04A33.40 33.40 0 0 1 257.79 276.38Z" fill="#8b8b8b"/>
<path d="M245.15 307.30L257.79 276.38A33.40 33.40 0 0 1 262.12 278.53Z" fill="#6c6c6c"/>
<path d="M245.15 307.30L262.12 278.53A33.40 33.40 0 0 1 265.96 281.17Z" fill="#d2d2d2"/>
<path d="M245.15 307.30L265.96 281.17A33.40 33.40 0 0 1 269.46 284.40Z" fill="#505050"/>
<path d="M245.15 307.30L269.46 284.40A33.40 33.40 0 0 1 271.74 287.09Z" fill="#929292"/>
<path d="M245.15 307.30L271.74 287.09A33.40 33.40 0 0 1 273.71 289.98Z" fill="#464646"/>
<path d="M245.15 307.30L273.71 289.98A33.40 33.40 0 0 1 275.27 292.86Z" fill="#f0f0f0"/>
<path d="M245.15 307.30L275.27 292.86A33.40 33.40 0 0 1 276.55 295.90Z" fill="#767676"/>
<path d="M245.15 307.30L276.55 295.90A33.40 33.40 0 0 1 277.67 299.70Z" fill="#141414"/>
<path d="M245.15 307.30L277.67 299.70A33.40 33.40 0 0 1 278.22 302.63Z" fill="#9c9c9c"/>
<path d="M245.15 307.30L278.22 302.63A33.40 33.40 0 0 1 278.53 306.09Z" fill="#dedede"/>
<path d="M245.15 307.30L278.53 306.09A33.40 33.40 0 0 1 278.50 309.04Z" fill="#5e5e5e"/>
<path d="M245.15 307.30L278.50 309.04A33.40 33.40 0 0 1 278.22 312.01Z" fill="#a6a6a6"/>
<path d="M245.15 307.30L278.22 312.01A33.40 33.40 0 0 1 277.64 315.05Z" fill="#444444"/>
<path d="M245.15 307.30L277.64 315.05A33.40 33.40 0 0 1 276.64 318.43Z" fill="#c6c6c6"/>
<path d="M245.15 307.30L276.64 318.43A33.40 33.40 0 0 1 275.45 321.35Z" fill="#7e7e7e"/>
<path d="M245.15 307.30L275.45 321.35A33.40 33.40 0 0 1 274.38 323.46Z" fill="#f6f6f6"/>
<path d="M245.15 307.30L274.38 323.46A33.40 33.40 0 0 1 273.02 325.71Z" fill="#6e6e6e"/>
<path d="M245.15 307.30L273.02 325.71A33.40 33.40 0 0 1 271.60 327.69Z" fill="#8b8b8b"/>
<path d="M245.15 307.30L271.60 327.69A33.40 33.40 0 0 1 269.54 330.12Z" fill="#1c1c1c"/>
<path d="M245.15 307.30L269.54 330.12A33.40 33.40 0 0 1 267.36 332.24Z" fill="#b4b4b4"/>
<path d="M245.15 307.30L267.36 332.24A33.40 33.40 0 0 1 266.62 332.89Z" fill="#686868"/>
<path d="M245.15 307.30L266.62 332.89A33.40 33.40 0 0 1 265.01 334.15Z" fill="#8b8b8b"/>
<path d="M245.15 307.30L265.01 334.15A33.40 33.40 0 0 1 263.38 335.29Z" fill="#d5d5d5"/>
<path d="M245.15 307.30L263.38 335.29A33.40 33.40 0 0 1 261.59 336.37Z" fill="#8b8b8b"/>
<path d="M245.15 307.30L261.59 336.37A33.40 33.40 0 0 1 259.84 337.30Z" fill="#5b5b5b"/>
<path d="M245.15 307.30L259.84 337.30A33.40 33.40 0 0 1 258.31 338.00Z" fill="#8b8b8b"/>
<path d="M245.15 307.30L258.31 338.00A33.40 33.40 0 0 1 256.45 338.73Z" fill="#eaeaea"/>
<path d="M245.15 307.30L256.45 338.73A33.40 33.40 0 0 1 254.76 339.29Z" fill="#797979"/>
<path d="M245.15 307.30L254.76 339.29A33.40 33.40 0 0 1 252.91 339.79Z" fill="#a5a5a5"/>
<path d="M245.15 307.30L252.91 339.79A33.40 33.40 0 0 1 251.15 340.16Z" fill="#8b8b8b"/>
<path d="M245.15 307.30L251.15 340.16A33.40 33.40 0 0 1 249.45 340.42Z" fill="#4a4a4a"/>
<path d="M245.15 307.30L249.45 340.42A33.40 33.40 0 0 1 247.78 340.60Z" fill="#8b8b8b"/>
<path d="M245.15 307.30L247.78 340.60A33.40 33.40 0 0 1 246.09 340.69Z" fill="#d7d7d7"/>
<path d="M245.15 307.30L246.09 340.69A33.40 33.40 0 0 1 244.46 340.69Z" fill="#6e6e6e"/>
<path d="M245.15 307.30L244.46 340.69A33.40 33.40 0 0 1 242.94 340.63Z" fill="#b1b1b1"/>
<path d="M245.15 307.30L242.94 340.63A33.40 33.40 0 0 1 241.09 340.45Z" fill="#8b8b8b"/>
<path d="M245.15 307.30L241.09 340.45A33.40 33.40 0 0 1 239.26 340.18Z" fill="#cacaca"/>
<path d="M245.15 307.30L239.26 340.18A33.40 33.40 0 0 1 237.38 339.78Z" fill="#8b8b8b"/>
<path d="M245.15 307.30L237.38 339.78A33.40 33.40 0 0 1 235.67 339.33Z" fill="#626262"/>
<path d="M245.15 307.30L235.67 339.33A33.40 33.40 0 0 1 234.07 338.81Z" fill="#8b8b8b"/>
<path d="M245.15 307.30L234.07 338.81A33.40 33.40 0 0 1 232.42 338.18Z" fill="#dcdcdc"/>
<path d="M245.15 307.30L232.42 338.18A33.40 33.40 0 0 1 231.08 337.59Z" fill="#7b7b7b"/>
<path d="M245.15 307.30L231.08 337.59A33.40 33.40 0 0 1 229.55 336.83Z" fill="#a1a1a1"/>
<path d="M245.15 307.30L229.55 336.83A33.40 33.40 0 0 1 228.16 336.06Z" fill="#8b8b8b"/>
<path d="M245.15 307.30L228.16 336.06A33.40 33.40 0 0 1 226.93 335.29Z" fill="#545454"/>
<path d="M245.15 307.30L226.93 335.29A33.40 33.40 0 0 1 225.73 334.47Z" fill="#8b8b8b"/>
<path d="M245.15 307.30L225.73 334.47A33.40 33.40 0 0 1 224.45 333.51Z" fill="#cccccc"/>
<path d="M245.15 307.30L224.45 333.51A33.40 33.40 0 0 1 223.33 332.58Z" fill="#727272"/>
<path d="M245.15 307.30L223.33 332.58A33.40 33.40 0 0 1 222.18 331.55Z" fill="#acacac"/>
<path d="M245.15 307.30L222.18 331.55A33.40 33.40 0 0 1 221.04 330.41Z" fill="#8b8b8b"/>
<path d="M245.15 307.30L221.04 330.41A33.40 33.40 0 0 1 220.03 329.31Z" fill="#c0c0c0"/>
<path d="M245.15 307.30L220.03 329.31A33.40 33.40 0 0 1 219.15 328.26Z" fill="#8b8b8b"/>
<path d="M245.15 307.30L219.15 328.26A33.40 33.40 0 0 1 218.22 327.05Z" fill="#686868"/>
<path d="M245.15 307.30L218.22 327.05A33.40 33.40 0 0 1 217.41 325.91Z" fill="#8b8b8b"/>
<path d="M245.15 307.30L217.41 325.91A33.40 33.40 0 0 1 216.66 324.73Z" fill="#d0d0d0"/>
<path d="M245.15 307.30L216.66 324.73A33.40 33.40 0 0 1 215.97 323.56Z" fill="#7e7e7e"/>
<path d="M245.15 307.30L215.97 323.56A33.40 33.40 0 0 1 215.30 322.29Z" fill="#9e9e9e"/>
<path d="M245.15 307.30L215.30 322.29A33.40 33.40 0 0 1 214.74 321.12Z" fill="#8b8b8b"/>
<path d="M245.15 307.30L214.74 321.12A33.40 33.40 0 0 1 214.14 319.70Z" fill="#5c5c5c"/>
<path d="M245.15 307.30L214.14 319.70A33.40 33.40 0 0 1 213.56 318.14Z" fill="#8b8b8b"/>
<path d="M245.15 307.30L213.56 318.14A33.40 33.40 0 0 1 213.13 316.80Z" fill="#c2c2c2"/>
<path d="M245.15 307.30L213.13 316.80A33.40 33.40 0 0 1 212.72 315.31Z" fill="#767676"/>
<path d="M245.15 307.30L212.72 315.31A33.40 33.40 0 0 1 212.37 313.72Z" fill="#a6a6a6"/>
<path d="M245.15 307.30L212.37 313.72A33.40 33.40 0 0 1 212.16 312.51Z" fill="#8b8b8b"/>
<path d="M245.15 307.30L212.16 312.51A33.40 33.40 0 0 1 211.98 311.25Z" fill="#b8b8b8"/>
<path d="M245.15 307.30L211.98 311.25A33.40 33.40 0 0 1 211.84 309.72Z" fill="#8b8b8b"/>
<path d="M245.15 307.30L211.84 309.72A33.40 33.40 0 0 1 211.76 308.18Z" fill="#6e6e6e"/>
<path d="M245.15 307.30L211.76 308.18A33.40 33.40 0 0 1 211.75 306.73Z" fill="#8b8b8b"/>
<path d="M245.15 307.30L211.75 306.73A33.40 33.40 0 0 1 211.80 305.49Z" fill="#c4c4c4"/>
<path d="M245.15 307.30L211.80 305.49A33.40 33.40 0 0 1 211.90 304.15Z" fill="#808080"/>
<path d="M245.15 307.30L211.90 304.15A33.40 33.40 0 0 1 212.08 302.64Z" fill="#9b9b9b"/>
<path d="M245.15 307.30L212.08 302.64A33.40 33.40 0 0 1 212.32 301.15Z" fill="#8b8b8b"/>
<path d="M245.15 307.30L212.32 301.15A33.40 33.40 0 0 1 212.62 299.71Z" fill="#646464"/>
<path d="M245.15 307.30L212.62 299.71A33.40 33.40 0 0 1 212.92 298.53Z" fill="#8b8b8b"/>
<path d="M245.15 307.30L212.92 298.53A33.40 33.40 0 0 1 213.34 297.12Z" fill="#b8b8b8"/>
<path d="M245.15 307.30L213.34 297.12A33.40 33.40 0 0 1 213.75 295.91Z" fill="#7a7a7a"/>
<path d="M245.15 307.30L213.75 295.91A33.40 33.40 0 0 1 214.18 294.79Z" fill="#a1a1a1"/>
<circle cx="245.15" cy="307.30" r="33.40" fill="none" stroke="#262626" stroke-width="1"/>
</g>
<g>
<circle cx="327.15" cy="307.60" r="33.40" fill="#8b8b8b"/>
<path d="M327.15 307.60L327.15 274.20A33.40 33.40 0 0 1 329.19 274.26Z" fill="#131313" stroke="#222" stroke-width="0.3"/>
<path d="M327.15 307.60L329.19 274.26A33.40 33.40 0 0 1 332.37 274.61Z" fill="#8b8b8b" stroke="#222" stroke-width="0.3"/>
<path d="M327.15 307.60L332.37 274.61A33.40 33.40 0 0 1 333.52 274.81Z" fill="#e8e8e8" stroke="#222" stroke-width="0.3"/>
<path d="M327.15 307.60L333.52 274.81A33.40 33.40 0 0 1 334.09 274.93Z" fill="#555555" stroke="#222" stroke-width="0.3"/>
<path d="M327.15 307.60L334.09 274.93A33.40 33.40 0 0 1 336.16 275.44Z" fill="#8b8b8b"/>
<path d="M327.15 307.60L336.16 275.44A33.40 33.40 0 0 1 337.58 275.87Z" fill="#f4f4f4"/>
<path d="M327.15 307.60L337.58 275.87A33.40 33.40 0 0 1 338.54 276.20Z" fill="#4a4a4a"/>
<path d="M327.15 307.60L338.54 276.20A33.40 33.40 0 0 1 340.57 277.02Z" fill="#7c7c7c"/>
<path d="M327.15 307.60L340.57 277.02A33.40 33.40 0 0 1 341.94 277.65Z" fill="#f0f0f0"/>
<path d="M327.15 307.60L341.94 277.65A33.40 33.40 0 0 1 342.89 278.14Z" fill="#4c4c4c"/>
<path d="M327.15 307.60L342.89 278.14A33.40 33.40 0 0 1 344.75 279.21Z" fill="#8b8b8b"/>
<path d="M327.15 307.60L344.75 279.21A33.40 33.40 0 0 1 345.97 280.01Z" fill="#ededed"/>
<path d="M327.15 307.60L345.97 280.01A33.40 33.40 0 0 1 346.84 280.62Z" fill="#4e4e4e"/>
<path d="M327.15 307.60L346.84 280.62A33.40 33.40 0 0 1 348.68 282.07Z" fill="#7c7c7c"/>
<path d="M327.15 307.60L348.68 282.07A33.40 33.40 0 0 1 349.85 283.10Z" fill="#eaeaea"/>
<path d="M327.15 307.60L349.85 283.10A33.40 33.40 0 0 1 350.70 283.92Z" fill="#505050"/>
<path d="M327.15 307.60L350.70 283.92A33.40 33.40 0 0 1 352.18 285.48Z" fill="#969696"/>
<path d="M327.15 307.60L352.18 285.48A33.40 33.40 0 0 1 353.08 286.55Z" fill="#e7e7e7"/>
<path d="M327.15 307.60L353.08 286.55A33.40 33.40 0 0 1 353.77 287.43Z" fill="#535353"/>
<path d="M327.15 307.60L353.77 287.43A33.40 33.40 0 0 1 354.95 289.09Z" fill="#8b8b8b"/>
<path d="M327.15 307.60L354.95 289.09A33.40 33.40 0 0 1 355.66 290.20Z" fill="#e4e4e4"/>
<path d="M327.15 307.60L355.66 290.20A33.40 33.40 0 0 1 356.21 291.13Z" fill="#555555"/>
<path d="M327.15 307.60L356.21 291.13A33.40 33.40 0 0 1 357.10 292.81Z" fill="#7c7c7c"/>
<path d="M327.15 307.60L357.10 292.81A33.40 33.40 0 0 1 357.62 293.91Z" fill="#e1e1e1"/>
<path d="M327.15 307.60L357.62 293.91A33.40 33.40 0 0 1 358.02 294.85Z" fill="#575757"/>
<path d="M327.15 307.60L358.02 294.85A33.40 33.40 0 0 1 358.70 296.64Z" fill="#7c7c7c"/>
<path d="M327.15 307.60L358.70 296.64A33.40 33.40 0 0 1 359.07 297.78Z" fill="#dedede"/>
<path d="M327.15 307.60L359.07 297.78A33.40 33.40 0 0 1 359.36 298.78Z" fill="#595959"/>
<path d="M327.15 307.60L359.36 298.78A33.40 33.40 0 0 1 359.81 300.59Z" fill="#8b8b8b"/>
<path d="M327.15 307.60L359.81 300.59A33.40 33.40 0 0 1 360.03 301.72Z" fill="#dbdbdb"/>
<path d="M327.15 307.60L360.03 301.72A33.40 33.40 0 0 1 360.19 302.74Z" fill="#5b5b5b"/>
<path d="M327.15 307.60L360.19 302.74A33.40 33.40 0 0 1 360.40 304.42Z" fill="#7c7c7c"/>
<path d="M327.15 307.60L360.40 304.42A33.40 33.40 0 0 1 360.48 305.46Z" fill="#d8d8d8"/>
<path d="M327.15 307.60L360.48 305.46A33.40 33.40 0 0 1 360.53 306.41Z" fill="#5d5d5d"/>
<path d="M327.15 307.60L360.53 306.41A33.40 33.40 0 0 1 360.55 308.07Z" fill="#8b8b8b"/>
<path d="M327.15 307.60L360.55 308.07A33.40 33.40 0 0 1 360.52 309.07Z" fill="#d6d6d6"/>
<path d="M327.15 307.60L360.52 309.07A33.40 33.40 0 0 1 360.46 310.02Z" fill="#5f5f5f"/>
<path d="M327.15 307.60L360.46 310.02A33.40 33.40 0 0 1 360.31 311.60Z" fill="#7c7c7c"/>
<path d="M327.15 307.60L360.31 311.60A33.40 33.40 0 0 1 360.18 312.54Z" fill="#d3d3d3"/>
<path d="M327.15 307.60L360.18 312.54A33.40 33.40 0 0 1 360.03 313.45Z" fill="#606060"/>
<path d="M327.15 307.60L360.03 313.45A33.40 33.40 0 0 1 359.74 314.93Z" fill="#7c7c7c"/>
<path d="M327.15 307.60L359.74 314.93A33.40 33.40 0 0 1 359.53 315.79Z" fill="#d1d1d1"/>
<path d="M327.15 307.60L359.53 315.79A33.40 33.40 0 0 1 359.30 316.64Z" fill="#626262"/>
<path d="M327.15 307.60L359.30 316.64A33.40 33.40 0 0 1 358.85 318.13Z" fill="#969696"/>
<path d="M327.15 307.60L358.85 318.13A33.40 33.40 0 0 1 358.55 318.99Z" fill="#cfcfcf"/>
<path d="M327.15 307.60L358.55 318.99A33.40 33.40 0 0 1 358.22 319.85Z" fill="#646464"/>
<path d="M327.15 307.60L358.22 319.85A33.40 33.40 0 0 1 357.59 321.34Z" fill="#969696"/>
<path d="M327.15 307.60L357.59 321.34A33.40 33.40 0 0 1 357.20 322.18Z" fill="#cdcdcd"/>
<path d="M327.15 307.60L357.20 322.18A33.40 33.40 0 0 1 356.76 323.05Z" fill="#656565"/>
<path d="M327.15 307.60L356.76 323.05A33.40 33.40 0 0 1 355.88 324.64Z" fill="#8b8b8b"/>
<path d="M327.15 307.60L355.88 324.64A33.40 33.40 0 0 1 355.34 325.51Z" fill="#cacaca"/>
<path d="M327.15 307.60L355.34 325.51A33.40 33.40 0 0 1 354.74 326.43Z" fill="#676767"/>
<path d="M327.15 307.60L354.74 326.43A33.40 33.40 0 0 1 353.71 327.85Z" fill="#8b8b8b"/>
<path d="M327.15 307.60L353.71 327.85A33.40 33.40 0 0 1 353.11 328.62Z" fill="#c8c8c8"/>
<path d="M327.15 307.60L353.11 328.62A33.40 33.40 0 0 1 352.42 329.44Z" fill="#696969"/>
<path d="M327.15 307.60L352.42 329.44A33.40 33.40 0 0 1 351.38 330.59Z" fill="#7c7c7c"/>
<path d="M327.15 307.60L351.38 330.59A33.40 33.40 0 0 1 350.78 331.21Z" fill="#c5c5c5"/>
<path d="M327.15 307.60L350.78 331.21A33.40 33.40 0 0 1 350.08 331.88Z" fill="#6b6b6b"/>
<path d="M327.15 307.60L350.08 331.88A33.40 33.40 0 0 1 349.09 332.78Z" fill="#8b8b8b"/>
<path d="M327.15 307.60L349.09 332.78A33.40 33.40 0 0 1 348.54 333.25Z" fill="#c3c3c3"/>
<path d="M327.15 307.60L348.54 333.25A33.40 33.40 0 0 1 347.88 333.79Z" fill="#6c6c6c"/>
<path d="M327.15 307.60L347.88 333.79A33.40 33.40 0 0 1 346.65 334.72Z" fill="#969696"/>
<path d="M327.15 307.60L346.65 334.72A33.40 33.40 0 0 1 345.97 335.20Z" fill="#c1c1c1"/>
<path d="M327.15 307.60L345.97 335.20A33.40 33.40 0 0 1 345.14 335.74Z" fill="#6e6e6e"/>
<path d="M327.15 307.60L345.14 335.74A33.40 33.40 0 0 1 343.95 336.47Z" fill="#8b8b8b"/>
<path d="M327.15 307.60L343.95 336.47A33.40 33.40 0 0 1 343.30 336.84Z" fill="#bebebe"/>
<path d="M327.15 307.60L343.30 336.84A33.40 33.40 0 0 1 342.50 337.26Z" fill="#6f6f6f"/>
<path d="M327.15 307.60L342.50 337.26A33.40 33.40 0 0 1 341.37 337.82Z" fill="#8b8b8b"/>
<path d="M327.15 307.60L341.37 337.82A33.40 33.40 0 0 1 340.76 338.10Z" fill="#bcbcbc"/>
<path d="M327.15 307.60L340.76 338.10A33.40 33.40 0 0 1 340.01 338.42Z" fill="#717171"/>
<circle cx="327.15" cy="307.60" r="33.40" fill="none" stroke="#262626" stroke-width="1"/>
</g>
<text x="49.50" y="349.40" font-size="9.5" textLength="61.90" lengthAdjust="spacing" stroke="#1c1c1c" stroke-width="0.22">N=427 Di= 0.993</text>
<text x="131.00" y="349.40" font-size="9.5" textLength="62.20" lengthAdjust="spacing" stroke="#1c1c1c" stroke-width="0.22">N=346 Di= 0.988</text>
<text x="213.30" y="349.40" font-size="9.5" textLength="62.10" lengthAdjust="spacing" stroke="#1c1c1c" stroke-width="0.22">N=420 Di= 0.987</text>
<text x="296.50" y="349.40" font-size="9.5" textLength="62.40" lengthAdjust="spacing" stroke="#1c1c1c" stroke-width="0.22">N=917 Di= 0.996</text>
<text x="5.90" y="365.30" font-size="9.8" font-weight="bold" textLength="40.00" lengthAdjust="spacing" stroke="#1c1c1c" stroke-width="0.3">Patient 3</text>
<text x="51.40" y="365.20" font-size="9.4" textLength="54.50" lengthAdjust="spacing" stroke="#1c1c1c" stroke-width="0.22">Pre 4 months</text>
<text x="136.40" y="365.20" font-size="9.4" textLength="56.80" lengthAdjust="spacing" stroke="#1c1c1c" stroke-width="0.22">Post 12 years</text>
<text x="5.00" y="403.70" font-size="9.2" textLength="18.00" lengthAdjust="spacing" stroke="#1c1c1c" stroke-width="0.22">Treg</text>
<text x="4.60" y="480.60" font-size="9.2" textLength="37.80" lengthAdjust="spacing" stroke="#1c1c1c" stroke-width="0.22">Non-Treg</text>
<g>
<circle cx="80.50" cy="403.80" r="33.40" fill="#8b8b8b"/>
<path d="M80.50 403.80L80.50 370.40A33.40 33.40 0 1 1 49.32 391.83Z" fill="#131313" stroke="#222" stroke-width="0.3"/>
<path d="M80.50 403.80L49.32 391.83A33.40 33.40 0 0 1 80.50 370.40Z" fill="#8b8b8b" stroke="#222" stroke-width="0.3"/>
<circle cx="80.50" cy="403.80" r="33.40" fill="none" stroke="#262626" stroke-width="1"/>
</g>
<g>
<circle cx="163.55" cy="402.85" r="33.40" fill="#8b8b8b"/>
<path d="M163.55 402.85L163.55 369.45A33.40 33.40 0 0 1 173.32 370.91Z" fill="#131313" stroke="#222" stroke-width="0.3"/>
<path d="M163.55 402.85L173.32 370.91A33.40 33.40 0 0 1 182.71 375.49Z" fill="#8b8b8b" stroke="#222" stroke-width="0.3"/>
<path d="M163.55 402.85L182.71 375.49A33.40 33.40 0 0 1 189.87 382.29Z" fill="#6c6c6c" stroke="#222" stroke-width="0.3"/>
<path d="M163.55 402.85L189.87 382.29A33.40 33.40 0 0 1 194.52 390.34Z" fill="#d2d2d2" stroke="#222" stroke-width="0.3"/>
<path d="M163.55 402.85L194.52 390.34A33.40 33.40 0 0 1 196.44 397.05Z" fill="#4e4e4e" stroke="#222" stroke-width="0.3"/>
<path d="M163.55 402.85L196.44 397.05A33.40 33.40 0 0 1 196.82 405.76Z" fill="#8b8b8b" stroke="#222" stroke-width="0.3"/>
<path d="M163.55 402.85L196.82 405.76A33.40 33.40 0 0 1 195.81 411.49Z" fill="#505050" stroke="#222" stroke-width="0.3"/>
<path d="M163.55 402.85L195.81 411.49A33.40 33.40 0 0 1 193.04 418.53Z" fill="#f2f2f2" stroke="#222" stroke-width="0.3"/>
<path d="M163.55 402.85L193.04 418.53A33.40 33.40 0 0 1 190.91 422.01Z" fill="#8b8b8b" stroke="#222" stroke-width="0.3"/>
<path d="M163.55 402.85L190.91 422.01A33.40 33.40 0 0 1 188.37 425.20Z" fill="#131313" stroke="#222" stroke-width="0.3"/>
<path d="M163.55 402.85L188.37 425.20A33.40 33.40 0 0 1 182.71 430.21Z" fill="#8b8b8b" stroke="#222" stroke-width="0.3"/>
<path d="M163.55 402.85L182.71 430.21A33.40 33.40 0 0 1 179.71 432.08Z" fill="#dedede"/>
<path d="M163.55 402.85L179.71 432.08A33.40 33.40 0 0 1 175.85 433.90Z" fill="#5e5e5e"/>
<path d="M163.55 402.85L175.85 433.90A33.40 33.40 0 0 1 172.01 435.16Z" fill="#a6a6a6"/>
<path d="M163.55 402.85L172.01 435.16A33.40 33.40 0 0 1 168.39 435.90Z" fill="#444444"/>
<path d="M163.55 402.85L168.39 435.90A33.40 33.40 0 0 1 165.20 436.21Z" fill="#c6c6c6"/>
<path d="M163.55 402.85L165.20 436.21A33.40 33.40 0 0 1 161.26 436.17Z" fill="#7e7e7e"/>
<path d="M163.55 402.85L161.26 436.17A33.40 33.40 0 0 1 157.45 435.69Z" fill="#f6f6f6"/>
<path d="M163.55 402.85L157.45 435.69A33.40 33.40 0 0 1 154.20 434.91Z" fill="#6e6e6e"/>
<path d="M163.55 402.85L154.20 434.91A33.40 33.40 0 0 1 151.14 433.86Z" fill="#8b8b8b"/>
<path d="M163.55 402.85L151.14 433.86A33.40 33.40 0 0 1 148.56 432.70Z" fill="#1c1c1c"/>
<path d="M163.55 402.85L148.56 432.70A33.40 33.40 0 0 1 146.39 431.51Z" fill="#b4b4b4"/>
<path d="M163.55 402.85L146.39 431.51A33.40 33.40 0 0 1 143.99 429.93Z" fill="#686868"/>
<path d="M163.55 402.85L143.99 429.93A33.40 33.40 0 0 1 141.59 428.02Z" fill="#e6e6e6"/>
<path d="M163.55 402.85L141.59 428.02A33.40 33.40 0 0 1 139.85 426.38Z" fill="#666666"/>
<path d="M163.55 402.85L139.85 426.38A33.40 33.40 0 0 1 137.72 424.02Z" fill="#8b8b8b"/>
<path d="M163.55 402.85L137.72 424.02A33.40 33.40 0 0 1 136.22 422.05Z" fill="#6c6c6c"/>
<path d="M163.55 402.85L136.22 422.05A33.40 33.40 0 0 1 134.90 420.02Z" fill="#d2d2d2"/>
<path d="M163.55 402.85L134.90 420.02A33.40 33.40 0 0 1 133.84 418.11Z" fill="#505050"/>
<path d="M163.55 402.85L133.84 418.11A33.40 33.40 0 0 1 132.54 415.25Z" fill="#929292"/>
<path d="M163.55 402.85L132.54 415.25A33.40 33.40 0 0 1 131.61 412.60Z" fill="#464646"/>
<path d="M163.55 402.85L131.61 412.60A33.40 33.40 0 0 1 130.88 409.81Z" fill="#f0f0f0"/>
<path d="M163.55 402.85L130.88 409.81A33.40 33.40 0 0 1 130.45 407.29Z" fill="#767676"/>
<path d="M163.55 402.85L130.45 407.29A33.40 33.40 0 0 1 130.24 405.34Z" fill="#141414"/>
<path d="M163.55 402.85L130.24 405.34A33.40 33.40 0 0 1 130.15 403.14Z" fill="#9c9c9c"/>
<path d="M163.55 402.85L130.15 403.14A33.40 33.40 0 0 1 130.21 400.82Z" fill="#dedede"/>
<path d="M163.55 402.85L130.21 400.82A33.40 33.40 0 0 1 130.39 398.89Z" fill="#5e5e5e"/>
<path d="M163.55 402.85L130.39 398.89A33.40 33.40 0 0 1 130.80 396.27Z" fill="#a6a6a6"/>
<path d="M163.55 402.85L130.80 396.27A33.40 33.40 0 0 1 131.28 394.24Z" fill="#444444"/>
<path d="M163.55 402.85L131.28 394.24A33.40 33.40 0 0 1 131.81 392.44Z" fill="#c6c6c6"/>
<path d="M163.55 402.85L131.81 392.44A33.40 33.40 0 0 1 132.65 390.18Z" fill="#7e7e7e"/>
<path d="M163.55 402.85L132.65 390.18A33.40 33.40 0 0 1 133.37 388.55Z" fill="#f6f6f6"/>
<path d="M163.55 402.85L133.37 388.55A33.40 33.40 0 0 1 134.48 386.40Z" fill="#6e6e6e"/>
<path d="M163.55 402.85L134.48 386.40A33.40 33.40 0 0 1 135.52 384.69Z" fill="#8b8b8b"/>
<path d="M163.55 402.85L135.52 384.69A33.40 33.40 0 0 1 136.19 383.69Z" fill="#1c1c1c"/>
<path d="M163.55 402.85L136.19 383.69A33.40 33.40 0 0 1 137.04 382.53Z" fill="#8b8b8b"/>
<path d="M163.55 402.85L137.04 382.53A33.40 33.40 0 0 1 137.98 381.37Z" fill="#ababab"/>
<path d="M163.55 402.85L137.98 381.37A33.40 33.40 0 0 1 138.85 380.36Z" fill="#8b8b8b"/>
<path d="M163.55 402.85L138.85 380.36A33.40 33.40 0 0 1 139.72 379.45Z" fill="#767676"/>
<path d="M163.55 402.85L139.72 379.45A33.40 33.40 0 0 1 140.86 378.34Z" fill="#8b8b8b"/>
<path d="M163.55 402.85L140.86 378.34A33.40 33.40 0 0 1 141.83 377.47Z" fill="#b2b2b2"/>
<path d="M163.55 402.85L141.83 377.47A33.40 33.40 0 0 1 143.00 376.52Z" fill="#838383"/>
<path d="M163.55 402.85L143.00 376.52A33.40 33.40 0 0 1 144.01 375.76Z" fill="#959595"/>
<path d="M163.55 402.85L144.01 375.76A33.40 33.40 0 0 1 145.28 374.89Z" fill="#8b8b8b"/>
<path d="M163.55 402.85L145.28 374.89A33.40 33.40 0 0 1 146.55 374.10Z" fill="#727272"/>
<path d="M163.55 402.85L146.55 374.10A33.40 33.40 0 0 1 147.78 373.41Z" fill="#8b8b8b"/>
<path d="M163.55 402.85L147.78 373.41A33.40 33.40 0 0 1 149.03 372.77Z" fill="#a6a6a6"/>
<path d="M163.55 402.85L149.03 372.77A33.40 33.40 0 0 1 150.21 372.23Z" fill="#808080"/>
<path d="M163.55 402.85L150.21 372.23A33.40 33.40 0 0 1 151.45 371.72Z" fill="#989898"/>
<path d="M163.55 402.85L151.45 371.72A33.40 33.40 0 0 1 152.48 371.34Z" fill="#8b8b8b"/>
<path d="M163.55 402.85L152.48 371.34A33.40 33.40 0 0 1 153.63 370.96Z" fill="#9f9f9f"/>
<path d="M163.55 402.85L153.63 370.96A33.40 33.40 0 0 1 154.90 370.59Z" fill="#8b8b8b"/>
<path d="M163.55 402.85L154.90 370.59A33.40 33.40 0 0 1 155.95 370.33Z" fill="#7e7e7e"/>
<path d="M163.55 402.85L155.95 370.33A33.40 33.40 0 0 1 157.24 370.05Z" fill="#8b8b8b"/>
<path d="M163.55 402.85L157.24 370.05A33.40 33.40 0 0 1 158.50 369.83Z" fill="#a2a2a2"/>
<path d="M163.55 402.85L158.50 369.83A33.40 33.40 0 0 1 159.60 369.68Z" fill="#868686"/>
<path d="M163.55 402.85L159.60 369.68A33.40 33.40 0 0 1 160.66 369.58Z" fill="#919191"/>
<path d="M163.55 402.85L160.66 369.58A33.40 33.40 0 0 1 161.75 369.50Z" fill="#8b8b8b"/>
<path d="M163.55 402.85L161.75 369.50A33.40 33.40 0 0 1 162.79 369.46Z" fill="#7d7d7d"/>
<path d="M163.55 402.85L162.79 369.46A33.40 33.40 0 0 1 163.55 369.45Z" fill="#8b8b8b"/>
<circle cx="163.55" cy="402.85" r="33.40" fill="none" stroke="#262626" stroke-width="1"/>
</g>
<text x="54.50" y="445.40" font-size="9.5" textLength="52.80" lengthAdjust="spacing" stroke="#1c1c1c" stroke-width="0.22">N=5 Di= 0.303</text>
<text x="133.70" y="445.40" font-size="9.5" textLength="61.30" lengthAdjust="spacing" stroke="#1c1c1c" stroke-width="0.22">N=135 Di= 0.977</text>
<g>
<circle cx="80.85" cy="480.45" r="33.40" fill="#8b8b8b"/>
<path d="M80.85 480.45L80.85 447.05A33.40 33.40 0 0 1 110.61 465.29Z" fill="#131313" stroke="#222" stroke-width="0.3"/>
<path d="M80.85 480.45L110.61 465.29A33.40 33.40 0 0 1 114.12 483.36Z" fill="#8b8b8b" stroke="#222" stroke-width="0.3"/>
<path d="M80.85 480.45L114.12 483.36A33.40 33.40 0 0 1 108.54 499.13Z" fill="#6c6c6c" stroke="#222" stroke-width="0.3"/>
<path d="M80.85 480.45L108.54 499.13A33.40 33.40 0 0 1 97.30 509.52Z" fill="#d2d2d2" stroke="#222" stroke-width="0.3"/>
<path d="M80.85 480.45L97.30 509.52A33.40 33.40 0 0 1 87.79 513.12Z" fill="#4e4e4e" stroke="#222" stroke-width="0.3"/>
<path d="M80.85 480.45L87.79 513.12A33.40 33.40 0 0 1 77.94 513.72Z" fill="#8b8b8b" stroke="#222" stroke-width="0.3"/>
<path d="M80.85 480.45L77.94 513.72A33.40 33.40 0 0 1 69.43 511.84Z" fill="#505050" stroke="#222" stroke-width="0.3"/>
<path d="M80.85 480.45L69.43 511.84A33.40 33.40 0 0 1 61.69 507.81Z" fill="#f2f2f2" stroke="#222" stroke-width="0.3"/>
<path d="M80.85 480.45L61.69 507.81A33.40 33.40 0 0 1 58.50 505.27Z" fill="#8b8b8b" stroke="#222" stroke-width="0.3"/>
<path d="M80.85 480.45L58.50 505.27A33.40 33.40 0 0 1 53.66 499.85Z" fill="#131313" stroke="#222" stroke-width="0.3"/>
<path d="M80.85 480.45L53.66 499.85A33.40 33.40 0 0 1 51.36 496.13Z" fill="#8b8b8b" stroke="#222" stroke-width="0.3"/>
<path d="M80.85 480.45L51.36 496.13A33.40 33.40 0 0 1 49.46 491.87Z" fill="#d2d2d2" stroke="#222" stroke-width="0.3"/>
<path d="M80.85 480.45L49.46 491.87A33.40 33.40 0 0 1 48.31 487.96Z" fill="#4e4e4e" stroke="#222" stroke-width="0.3"/>
<path d="M80.85 480.45L48.31 487.96A33.40 33.40 0 0 1 47.63 483.93Z" fill="#a6a6a6"/>
<path d="M80.85 480.45L47.63 483.93A33.40 33.40 0 0 1 47.45 480.00Z" fill="#444444"/>
<path d="M80.85 480.45L47.45 480.00A33.40 33.40 0 0 1 47.71 476.33Z" fill="#c6c6c6"/>
<path d="M80.85 480.45L47.71 476.33A33.40 33.40 0 0 1 48.11 473.82Z" fill="#7e7e7e"/>
<path d="M80.85 480.45L48.11 473.82A33.40 33.40 0 0 1 48.86 470.84Z" fill="#f6f6f6"/>
<path d="M80.85 480.45L48.86 470.84A33.40 33.40 0 0 1 49.77 468.23Z" fill="#6e6e6e"/>
<path d="M80.85 480.45L49.77 468.23A33.40 33.40 0 0 1 50.90 465.67Z" fill="#8b8b8b"/>
<path d="M80.85 480.45L50.90 465.67A33.40 33.40 0 0 1 51.98 463.66Z" fill="#1c1c1c"/>
<path d="M80.85 480.45L51.98 463.66A33.40 33.40 0 0 1 53.19 461.72Z" fill="#b4b4b4"/>
<path d="M80.85 480.45L53.19 461.72A33.40 33.40 0 0 1 54.66 459.72Z" fill="#686868"/>
<path d="M80.85 480.45L54.66 459.72A33.40 33.40 0 0 1 56.07 458.05Z" fill="#e6e6e6"/>
<path d="M80.85 480.45L56.07 458.05A33.40 33.40 0 0 1 57.72 456.36Z" fill="#666666"/>
<path d="M80.85 480.45L57.72 456.36A33.40 33.40 0 0 1 59.12 455.09Z" fill="#8b8b8b"/>
<path d="M80.85 480.45L59.12 455.09A33.40 33.40 0 0 1 60.60 453.89Z" fill="#6c6c6c"/>
<path d="M80.85 480.45L60.60 453.89A33.40 33.40 0 0 1 62.58 452.49Z" fill="#d2d2d2"/>
<path d="M80.85 480.45L62.58 452.49A33.40 33.40 0 0 1 64.38 451.39Z" fill="#505050"/>
<path d="M80.85 480.45L64.38 451.39A33.40 33.40 0 0 1 65.17 450.96Z" fill="#929292"/>
<path d="M80.85 480.45L65.17 450.96A33.40 33.40 0 0 1 66.73 450.18Z" fill="#8b8b8b"/>
<path d="M80.85 480.45L66.73 450.18A33.40 33.40 0 0 1 68.12 449.57Z" fill="#aaaaaa"/>
<path d="M80.85 480.45L68.12 449.57A33.40 33.40 0 0 1 69.36 449.09Z" fill="#8b8b8b"/>
<path d="M80.85 480.45L69.36 449.09A33.40 33.40 0 0 1 70.89 448.57Z" fill="#787878"/>
<path d="M80.85 480.45L70.89 448.57A33.40 33.40 0 0 1 72.32 448.16Z" fill="#8b8b8b"/>
<path d="M80.85 480.45L72.32 448.16A33.40 33.40 0 0 1 73.75 447.81Z" fill="#ababab"/>
<path d="M80.85 480.45L73.75 447.81A33.40 33.40 0 0 1 75.13 447.54Z" fill="#858585"/>
<path d="M80.85 480.45L75.13 447.54A33.40 33.40 0 0 1 76.61 447.32Z" fill="#929292"/>
<path d="M80.85 480.45L76.61 447.32A33.40 33.40 0 0 1 77.82 447.19Z" fill="#8b8b8b"/>
<path d="M80.85 480.45L77.82 447.19A33.40 33.40 0 0 1 79.15 447.09Z" fill="#7a7a7a"/>
<path d="M80.85 480.45L79.15 447.09A33.40 33.40 0 0 1 80.29 447.05Z" fill="#8b8b8b"/>
<path d="M80.85 480.45L80.29 447.05A33.40 33.40 0 0 1 80.85 447.05Z" fill="#9b9b9b"/>
<circle cx="80.85" cy="480.45" r="33.40" fill="none" stroke="#262626" stroke-width="1"/>
</g>
<g>
<circle cx="164.15" cy="480.75" r="33.40" fill="#8b8b8b"/>
<path d="M164.15 480.75L164.15 447.35A33.40 33.40 0 0 1 166.60 447.44Z" fill="#131313" stroke="#222" stroke-width="0.3"/>
<path d="M164.15 480.75L166.60 447.44A33.40 33.40 0 0 1 167.76 447.55Z" fill="#b4b4b4" stroke="#222" stroke-width="0.3"/>
<path d="M164.15 480.75L167.76 447.55A33.40 33.40 0 0 1 168.57 447.64Z" fill="#8b8b8b" stroke="#222" stroke-width="0.3"/>
<path d="M164.15 480.75L168.57 447.64A33.40 33.40 0 0 1 169.37 447.76Z" fill="#b0b0b0" stroke="#222" stroke-width="0.3"/>
<line x1="164.15" y1="480.75" x2="169.37" y2="447.76" stroke="#404040" stroke-opacity="0.8" stroke-width="0.55"/>
<line x1="164.94" y1="476.82" x2="170.75" y2="448.01" stroke="#4a4a4a" stroke-opacity="0.38" stroke-width="0.45"/>
<line x1="165.10" y1="476.86" x2="172.03" y2="448.29" stroke="#c4c4c4" stroke-opacity="0.32" stroke-width="0.45"/>
<line x1="165.24" y1="476.89" x2="173.21" y2="448.60" stroke="#4a4a4a" stroke-opacity="0.26" stroke-width="0.45"/>
<line x1="165.37" y1="476.93" x2="174.31" y2="448.93" stroke="#c4c4c4" stroke-opacity="0.21" stroke-width="0.45"/>
<line x1="165.49" y1="476.97" x2="175.32" y2="449.27" stroke="#4a4a4a" stroke-opacity="0.16" stroke-width="0.45"/>
<line x1="165.60" y1="477.01" x2="176.26" y2="449.62" stroke="#c4c4c4" stroke-opacity="0.11" stroke-width="0.45"/>
<circle cx="164.15" cy="480.75" r="33.40" fill="none" stroke="#262626" stroke-width="1"/>
</g>
<text x="51.40" y="523.30" font-size="9.5" textLength="58.20" lengthAdjust="spacing" stroke="#1c1c1c" stroke-width="0.22">N=88 Di= 0.932</text>
<text x="131.40" y="523.30" font-size="9.5" textLength="66.90" lengthAdjust="spacing" stroke="#1c1c1c" stroke-width="0.22">N=3572 Di= 0.989</text>
<text x="5.90" y="538.80" font-size="9.8" font-weight="bold" textLength="40.00" lengthAdjust="spacing" stroke="#1c1c1c" stroke-width="0.3">Patient 4</text>
<text x="52.00" y="538.80" font-size="9.4" textLength="53.90" lengthAdjust="spacing" stroke="#1c1c1c" stroke-width="0.22">Pre 7 months</text>
<text x="130.10" y="538.80" font-size="9.4" textLength="63.10" lengthAdjust="spacing" stroke="#1c1c1c" stroke-width="0.22">Post 18 months</text>
<text x="5.00" y="577.20" font-size="9.2" textLength="18.00" lengthAdjust="spacing" stroke="#1c1c1c" stroke-width="0.22">Treg</text>
<text x="4.60" y="654.40" font-size="9.2" textLength="37.80" lengthAdjust="spacing" stroke="#1c1c1c" stroke-width="0.22">Non-Treg</text>
<g>
<circle cx="80.40" cy="577.75" r="33.40" fill="#8b8b8b"/>
<path d="M80.40 577.75L80.40 544.35A33.40 33.40 0 1 1 79.23 611.13Z" fill="#131313" stroke="#222" stroke-width="0.3"/>
<path d="M80.40 577.75L79.23 611.13A33.40 33.40 0 0 1 54.08 598.31Z" fill="#8b8b8b" stroke="#222" stroke-width="0.3"/>
<path d="M80.40 577.75L54.08 598.31A33.40 33.40 0 0 1 47.00 577.75Z" fill="#6c6c6c" stroke="#222" stroke-width="0.3"/>
<path d="M80.40 577.75L47.00 577.75A33.40 33.40 0 0 1 52.71 559.07Z" fill="#d2d2d2" stroke="#222" stroke-width="0.3"/>
<path d="M80.40 577.75L52.71 559.07A33.40 33.40 0 0 1 62.95 549.27Z" fill="#4e4e4e" stroke="#222" stroke-width="0.3"/>
<path d="M80.40 577.75L62.95 549.27A33.40 33.40 0 0 1 71.19 545.64Z" fill="#8b8b8b" stroke="#222" stroke-width="0.3"/>
<path d="M80.40 577.75L71.19 545.64A33.40 33.40 0 0 1 74.03 544.96Z" fill="#484848" stroke="#222" stroke-width="0.3"/>
<path d="M80.40 577.75L74.03 544.96A33.40 33.40 0 0 1 77.49 544.48Z" fill="#f2f2f2" stroke="#222" stroke-width="0.3"/>
<path d="M80.40 577.75L77.49 544.48A33.40 33.40 0 0 1 80.40 544.35Z" fill="#8b8b8b" stroke="#222" stroke-width="0.3"/>
<circle cx="80.40" cy="577.75" r="33.40" fill="none" stroke="#262626" stroke-width="1"/>
</g>
<g>
<circle cx="164.15" cy="577.25" r="33.40" fill="#8b8b8b"/>
<path d="M164.15 577.25L164.15 543.85A33.40 33.40 0 1 1 156.07 544.84Z" fill="#131313" stroke="#222" stroke-width="0.3"/>
<path d="M164.15 577.25L156.07 544.84A33.40 33.40 0 0 1 164.15 543.85Z" fill="#8f8f8f" stroke="#222" stroke-width="0.3"/>
<circle cx="164.15" cy="577.25" r="33.40" fill="none" stroke="#262626" stroke-width="1"/>
</g>
<text x="51.00" y="618.80" font-size="9.5" textLength="58.10" lengthAdjust="spacing" stroke="#1c1c1c" stroke-width="0.22">N=19 Di= 0.687</text>
<text x="137.20" y="618.80" font-size="9.5" textLength="51.90" lengthAdjust="spacing" stroke="#1c1c1c" stroke-width="0.22">N=9 Di= 0.071</text>
<g>
<circle cx="80.70" cy="655.10" r="33.40" fill="#8b8b8b"/>
<path d="M80.70 655.10L80.70 621.70A33.40 33.40 0 0 1 114.10 654.81Z" fill="#131313" stroke="#222" stroke-width="0.3"/>
<path d="M80.70 655.10L114.10 654.81A33.40 33.40 0 0 1 92.67 686.28Z" fill="#8b8b8b" stroke="#222" stroke-width="0.3"/>
<path d="M80.70 655.10L92.67 686.28A33.40 33.40 0 0 1 58.79 680.31Z" fill="#6c6c6c" stroke="#222" stroke-width="0.3"/>
<path d="M80.70 655.10L58.79 680.31A33.40 33.40 0 0 1 47.31 654.52Z" fill="#d2d2d2" stroke="#222" stroke-width="0.3"/>
<path d="M80.70 655.10L47.31 654.52A33.40 33.40 0 0 1 51.35 639.16Z" fill="#4e4e4e" stroke="#222" stroke-width="0.3"/>
<path d="M80.70 655.10L51.35 639.16A33.40 33.40 0 0 1 58.35 630.28Z" fill="#8b8b8b" stroke="#222" stroke-width="0.3"/>
<path d="M80.70 655.10L58.35 630.28A33.40 33.40 0 0 1 63.50 626.47Z" fill="#4a4a4a" stroke="#222" stroke-width="0.3"/>
<path d="M80.70 655.10L63.50 626.47A33.40 33.40 0 0 1 70.38 623.33Z" fill="#f2f2f2" stroke="#222" stroke-width="0.3"/>
<path d="M80.70 655.10L70.38 623.33A33.40 33.40 0 0 1 72.06 622.84Z" fill="#444" stroke="#222" stroke-width="0.3"/>
<path d="M80.70 655.10L72.06 622.84A33.40 33.40 0 0 1 74.33 622.31Z" fill="#8b8b8b" stroke="#222" stroke-width="0.3"/>
<path d="M80.70 655.10L74.33 622.31A33.40 33.40 0 0 1 75.48 622.11Z" fill="#131313" stroke="#222" stroke-width="0.3"/>
<path d="M80.70 655.10L75.48 622.11A33.40 33.40 0 0 1 80.70 621.70Z" fill="#8b8b8b" stroke="#222" stroke-width="0.3"/>
<circle cx="80.70" cy="655.10" r="33.40" fill="none" stroke="#262626" stroke-width="1"/>
</g>
<g>
<circle cx="164.15" cy="654.80" r="33.40" fill="#8b8b8b"/>
<path d="M164.15 654.80L164.15 621.40A33.40 33.40 0 0 1 172.79 622.54Z" fill="#131313" stroke="#222" stroke-width="0.3"/>
<path d="M164.15 654.80L172.79 622.54A33.40 33.40 0 0 1 180.85 625.87Z" fill="#8b8b8b" stroke="#222" stroke-width="0.3"/>
<path d="M164.15 654.80L180.85 625.87A33.40 33.40 0 0 1 184.71 628.48Z" fill="#707070" stroke="#222" stroke-width="0.3"/>
<path d="M164.15 654.80L184.71 628.48A33.40 33.40 0 0 1 188.18 631.60Z" fill="#d2d2d2" stroke="#222" stroke-width="0.3"/>
<path d="M164.15 654.80L188.18 631.60A33.40 33.40 0 0 1 190.82 634.70Z" fill="#4e4e4e" stroke="#222" stroke-width="0.3"/>
<path d="M164.15 654.80L190.82 634.70A33.40 33.40 0 0 1 193.08 638.10Z" fill="#8b8b8b" stroke="#222" stroke-width="0.3"/>
<path d="M164.15 654.80L193.08 638.10A33.40 33.40 0 0 1 194.66 641.21Z" fill="#484848" stroke="#222" stroke-width="0.3"/>
<path d="M164.15 654.80L194.66 641.21A33.40 33.40 0 0 1 196.26 645.59Z" fill="#f2f2f2" stroke="#222" stroke-width="0.3"/>
<path d="M164.15 654.80L196.26 645.59A33.40 33.40 0 0 1 197.00 648.79Z" fill="#767676"/>
<path d="M164.15 654.80L197.00 648.79A33.40 33.40 0 0 1 197.44 652.14Z" fill="#141414"/>
<path d="M164.15 654.80L197.44 652.14A33.40 33.40 0 0 1 197.53 655.89Z" fill="#9c9c9c"/>
<path d="M164.15 654.80L197.53 655.89A33.40 33.40 0 0 1 197.14 659.99Z" fill="#dedede"/>
<path d="M164.15 654.80L197.14 659.99A33.40 33.40 0 0 1 196.50 663.12Z" fill="#5e5e5e"/>
<path d="M164.15 654.80L196.50 663.12A33.40 33.40 0 0 1 195.59 666.09Z" fill="#a6a6a6"/>
<path d="M164.15 654.80L195.59 666.09A33.40 33.40 0 0 1 194.35 669.06Z" fill="#444444"/>
<path d="M164.15 654.80L194.35 669.06A33.40 33.40 0 0 1 192.49 672.48Z" fill="#c6c6c6"/>
<path d="M164.15 654.80L192.49 672.48A33.40 33.40 0 0 1 190.81 674.92Z" fill="#7e7e7e"/>
<path d="M164.15 654.80L190.81 674.92A33.40 33.40 0 0 1 188.40 677.76Z" fill="#f6f6f6"/>
<path d="M164.15 654.80L188.40 677.76A33.40 33.40 0 0 1 185.84 680.20Z" fill="#6e6e6e"/>
<path d="M164.15 654.80L185.84 680.20A33.40 33.40 0 0 1 183.66 681.91Z" fill="#8b8b8b"/>
<path d="M164.15 654.80L183.66 681.91A33.40 33.40 0 0 1 180.94 683.68Z" fill="#1c1c1c"/>
<path d="M164.15 654.80L180.94 683.68A33.40 33.40 0 0 1 178.21 685.09Z" fill="#b4b4b4"/>
<path d="M164.15 654.80L178.21 685.09A33.40 33.40 0 0 1 175.47 686.22Z" fill="#686868"/>
<path d="M164.15 654.80L175.47 686.22A33.40 33.40 0 0 1 172.00 687.27Z" fill="#e6e6e6"/>
<path d="M164.15 654.80L172.00 687.27A33.40 33.40 0 0 1 169.57 687.76Z" fill="#666666"/>
<path d="M164.15 654.80L169.57 687.76A33.40 33.40 0 0 1 167.23 688.06Z" fill="#8b8b8b"/>
<path d="M164.15 654.80L167.23 688.06A33.40 33.40 0 0 1 163.85 688.20Z" fill="#6c6c6c"/>
<path d="M164.15 654.80L163.85 688.20A33.40 33.40 0 0 1 161.14 688.06Z" fill="#d2d2d2"/>
<path d="M164.15 654.80L161.14 688.06A33.40 33.40 0 0 1 158.72 687.76Z" fill="#505050"/>
<path d="M164.15 654.80L158.72 687.76A33.40 33.40 0 0 1 156.23 687.25Z" fill="#929292"/>
<path d="M164.15 654.80L156.23 687.25A33.40 33.40 0 0 1 153.78 686.55Z" fill="#464646"/>
<path d="M164.15 654.80L153.78 686.55A33.40 33.40 0 0 1 150.85 685.44Z" fill="#f0f0f0"/>
<path d="M164.15 654.80L150.85 685.44A33.40 33.40 0 0 1 148.77 684.45Z" fill="#767676"/>
<path d="M164.15 654.80L148.77 684.45A33.40 33.40 0 0 1 146.79 683.33Z" fill="#141414"/>
<path d="M164.15 654.80L146.79 683.33A33.40 33.40 0 0 1 144.60 681.88Z" fill="#9c9c9c"/>
<path d="M164.15 654.80L144.60 681.88A33.40 33.40 0 0 1 142.60 680.32Z" fill="#dedede"/>
<path d="M164.15 654.80L142.60 680.32A33.40 33.40 0 0 1 140.47 678.35Z" fill="#5e5e5e"/>
<path d="M164.15 654.80L140.47 678.35A33.40 33.40 0 0 1 138.62 676.33Z" fill="#a6a6a6"/>
<path d="M164.15 654.80L138.62 676.33A33.40 33.40 0 0 1 137.23 674.57Z" fill="#444444"/>
<path d="M164.15 654.80L137.23 674.57A33.40 33.40 0 0 1 136.06 672.87Z" fill="#c6c6c6"/>
<path d="M164.15 654.80L136.06 672.87A33.40 33.40 0 0 1 134.73 670.61Z" fill="#7e7e7e"/>
<path d="M164.15 654.80L134.73 670.61A33.40 33.40 0 0 1 133.54 668.16Z" fill="#f6f6f6"/>
<path d="M164.15 654.80L133.54 668.16A33.40 33.40 0 0 1 132.85 666.47Z" fill="#6e6e6e"/>
<path d="M164.15 654.80L132.85 666.47A33.40 33.40 0 0 1 132.76 666.22Z" fill="#8b8b8b"/>
<path d="M164.15 654.80L132.76 666.22A33.40 33.40 0 0 1 132.15 664.38Z" fill="#8b8b8b"/>
<path d="M164.15 654.80L132.15 664.38A33.40 33.40 0 0 1 131.68 662.64Z" fill="#d3d3d3"/>
<path d="M164.15 654.80L131.68 662.64A33.40 33.40 0 0 1 131.35 661.12Z" fill="#8b8b8b"/>
<path d="M164.15 654.80L131.35 661.12A33.40 33.40 0 0 1 131.06 659.32Z" fill="#5e5e5e"/>
<path d="M164.15 654.80L131.06 659.32A33.40 33.40 0 0 1 130.86 657.56Z" fill="#8b8b8b"/>
<path d="M164.15 654.80L130.86 657.56A33.40 33.40 0 0 1 130.77 656.08Z" fill="#e0e0e0"/>
<path d="M164.15 654.80L130.77 656.08A33.40 33.40 0 0 1 130.75 654.40Z" fill="#7b7b7b"/>
<path d="M164.15 654.80L130.75 654.40A33.40 33.40 0 0 1 130.80 652.95Z" fill="#a1a1a1"/>
<path d="M164.15 654.80L130.80 652.95A33.40 33.40 0 0 1 130.90 651.60Z" fill="#8b8b8b"/>
<path d="M164.15 654.80L130.90 651.60A33.40 33.40 0 0 1 131.08 650.13Z" fill="#565656"/>
<path d="M164.15 654.80L131.08 650.13A33.40 33.40 0 0 1 131.31 648.70Z" fill="#8b8b8b"/>
<path d="M164.15 654.80L131.31 648.70A33.40 33.40 0 0 1 131.61 647.26Z" fill="#c6c6c6"/>
<path d="M164.15 654.80L131.61 647.26A33.40 33.40 0 0 1 132.00 645.75Z" fill="#757575"/>
<path d="M164.15 654.80L132.00 645.75A33.40 33.40 0 0 1 132.48 644.20Z" fill="#a7a7a7"/>
<path d="M164.15 654.80L132.48 644.20A33.40 33.40 0 0 1 133.04 642.65Z" fill="#8b8b8b"/>
<path d="M164.15 654.80L133.04 642.65A33.40 33.40 0 0 1 133.67 641.14Z" fill="#b6b6b6"/>
<path d="M164.15 654.80L133.67 641.14A33.40 33.40 0 0 1 134.37 639.68Z" fill="#8b8b8b"/>
<path d="M164.15 654.80L134.37 639.68A33.40 33.40 0 0 1 135.08 638.35Z" fill="#717171"/>
<path d="M164.15 654.80L135.08 638.35A33.40 33.40 0 0 1 135.74 637.24Z" fill="#8b8b8b"/>
<path d="M164.15 654.80L135.74 637.24A33.40 33.40 0 0 1 136.40 636.22Z" fill="#bababa"/>
<path d="M164.15 654.80L136.40 636.22A33.40 33.40 0 0 1 137.19 635.09Z" fill="#828282"/>
<path d="M164.15 654.80L137.19 635.09A33.40 33.40 0 0 1 138.00 634.03Z" fill="#979797"/>
<path d="M164.15 654.80L138.00 634.03A33.40 33.40 0 0 1 138.87 632.97Z" fill="#8b8b8b"/>
<path d="M164.15 654.80L138.87 632.97A33.40 33.40 0 0 1 139.62 632.14Z" fill="#707070"/>
<path d="M164.15 654.80L139.62 632.14A33.40 33.40 0 0 1 140.41 631.31Z" fill="#8b8b8b"/>
<path d="M164.15 654.80L140.41 631.31A33.40 33.40 0 0 1 141.42 630.33Z" fill="#a8a8a8"/>
<path d="M164.15 654.80L141.42 630.33A33.40 33.40 0 0 1 141.80 629.98Z" fill="#808080"/>
<circle cx="164.15" cy="654.80" r="33.40" fill="none" stroke="#262626" stroke-width="1"/>
</g>
<text x="49.50" y="696.60" font-size="9.5" textLength="61.70" lengthAdjust="spacing" stroke="#1c1c1c" stroke-width="0.22">N=254 Di= 0.841</text>
<text x="132.50" y="696.60" font-size="9.5" textLength="61.90" lengthAdjust="spacing" stroke="#1c1c1c" stroke-width="0.22">N=247 Di= 0.985</text>
<text x="67.60" y="718.80" font-size="9.9" font-weight="bold" textLength="21.40" lengthAdjust="spacing" stroke="#1c1c1c" stroke-width="0.3">HC 1</text>
<text x="151.80" y="718.80" font-size="9.9" font-weight="bold" textLength="21.60" lengthAdjust="spacing" stroke="#1c1c1c" stroke-width="0.3">HC 2</text>
<text x="235.50" y="718.80" font-size="9.9" font-weight="bold" textLength="22.10" lengthAdjust="spacing" stroke="#1c1c1c" stroke-width="0.3">HC 3</text>
<text x="320.10" y="718.80" font-size="9.9" font-weight="bold" textLength="22.50" lengthAdjust="spacing" stroke="#1c1c1c" stroke-width="0.3">HC 4</text>
<text x="5.20" y="757.70" font-size="9.2" textLength="17.80" lengthAdjust="spacing" stroke="#1c1c1c" stroke-width="0.22">Treg</text>
<g>
<circle cx="80.15" cy="757.05" r="33.40" fill="#8b8b8b"/>
<path d="M80.15 757.05L80.15 723.65A33.40 33.40 0 0 1 89.92 725.11Z" fill="#131313" stroke="#222" stroke-width="0.3"/>
<path d="M80.15 757.05L89.92 725.11A33.40 33.40 0 0 1 97.85 728.73Z" fill="#8b8b8b" stroke="#222" stroke-width="0.3"/>
<path d="M80.15 757.05L97.85 728.73A33.40 33.40 0 0 1 102.50 732.23Z" fill="#707070" stroke="#222" stroke-width="0.3"/>
<path d="M80.15 757.05L102.50 732.23A33.40 33.40 0 0 1 105.74 735.58Z" fill="#d2d2d2" stroke="#222" stroke-width="0.3"/>
<path d="M80.15 757.05L105.74 735.58A33.40 33.40 0 0 1 108.47 739.35Z" fill="#4e4e4e" stroke="#222" stroke-width="0.3"/>
<path d="M80.15 757.05L108.47 739.35A33.40 33.40 0 0 1 110.66 743.46Z" fill="#8b8b8b" stroke="#222" stroke-width="0.3"/>
<path d="M80.15 757.05L110.66 743.46A33.40 33.40 0 0 1 111.92 746.73Z" fill="#484848" stroke="#222" stroke-width="0.3"/>
<path d="M80.15 757.05L111.92 746.73A33.40 33.40 0 0 1 113.04 751.25Z" fill="#f2f2f2" stroke="#222" stroke-width="0.3"/>
<path d="M80.15 757.05L113.04 751.25A33.40 33.40 0 0 1 113.51 755.39Z" fill="#767676"/>
<path d="M80.15 757.05L113.51 755.39A33.40 33.40 0 0 1 113.48 759.16Z" fill="#141414"/>
<path d="M80.15 757.05L113.48 759.16A33.40 33.40 0 0 1 113.07 762.69Z" fill="#9c9c9c"/>
<path d="M80.15 757.05L113.07 762.69A33.40 33.40 0 0 1 111.97 767.20Z" fill="#dedede"/>
<path d="M80.15 757.05L111.97 767.20A33.40 33.40 0 0 1 110.55 770.89Z" fill="#5e5e5e"/>
<path d="M80.15 757.05L110.55 770.89A33.40 33.40 0 0 1 108.67 774.43Z" fill="#a6a6a6"/>
<path d="M80.15 757.05L108.67 774.43A33.40 33.40 0 0 1 106.58 777.47Z" fill="#444444"/>
<path d="M80.15 757.05L106.58 777.47A33.40 33.40 0 0 1 104.42 780.00Z" fill="#c6c6c6"/>
<path d="M80.15 757.05L104.42 780.00A33.40 33.40 0 0 1 101.71 782.56Z" fill="#7e7e7e"/>
<path d="M80.15 757.05L101.71 782.56A33.40 33.40 0 0 1 99.00 784.62Z" fill="#f6f6f6"/>
<path d="M80.15 757.05L99.00 784.62A33.40 33.40 0 0 1 95.94 786.48Z" fill="#6e6e6e"/>
<path d="M80.15 757.05L95.94 786.48A33.40 33.40 0 0 1 92.93 787.91Z" fill="#8b8b8b"/>
<path d="M80.15 757.05L92.93 787.91A33.40 33.40 0 0 1 89.67 789.07Z" fill="#1c1c1c"/>
<path d="M80.15 757.05L89.67 789.07A33.40 33.40 0 0 1 86.86 789.77Z" fill="#b4b4b4"/>
<path d="M80.15 757.05L86.86 789.77A33.40 33.40 0 0 1 84.40 790.18Z" fill="#686868"/>
<path d="M80.15 757.05L84.40 790.18A33.40 33.40 0 0 1 81.97 790.40Z" fill="#e6e6e6"/>
<path d="M80.15 757.05L81.97 790.40A33.40 33.40 0 0 1 78.94 790.43Z" fill="#666666"/>
<path d="M80.15 757.05L78.94 790.43A33.40 33.40 0 0 1 76.59 790.26Z" fill="#8b8b8b"/>
<path d="M80.15 757.05L76.59 790.26A33.40 33.40 0 0 1 73.79 789.84Z" fill="#6c6c6c"/>
<path d="M80.15 757.05L73.79 789.84A33.40 33.40 0 0 1 71.13 789.21Z" fill="#d2d2d2"/>
<path d="M80.15 757.05L71.13 789.21A33.40 33.40 0 0 1 69.12 788.58Z" fill="#505050"/>
<path d="M80.15 757.05L69.12 788.58A33.40 33.40 0 0 1 66.53 787.55Z" fill="#929292"/>
<path d="M80.15 757.05L66.53 787.55A33.40 33.40 0 0 1 64.73 786.68Z" fill="#464646"/>
<path d="M80.15 757.05L64.73 786.68A33.40 33.40 0 0 1 62.33 785.30Z" fill="#f0f0f0"/>
<path d="M80.15 757.05L62.33 785.30A33.40 33.40 0 0 1 60.99 784.41Z" fill="#767676"/>
<path d="M80.15 757.05L60.99 784.41A33.40 33.40 0 0 1 59.62 783.40Z" fill="#8b8b8b"/>
<path d="M80.15 757.05L59.62 783.40A33.40 33.40 0 0 1 58.10 782.14Z" fill="#d4d4d4"/>
<path d="M80.15 757.05L58.10 782.14A33.40 33.40 0 0 1 56.67 780.81Z" fill="#8b8b8b"/>
<path d="M80.15 757.05L56.67 780.81A33.40 33.40 0 0 1 55.56 779.65Z" fill="#5c5c5c"/>
<path d="M80.15 757.05L55.56 779.65A33.40 33.40 0 0 1 54.33 778.24Z" fill="#8b8b8b"/>
<path d="M80.15 757.05L54.33 778.24A33.40 33.40 0 0 1 53.37 777.00Z" fill="#e6e6e6"/>
<path d="M80.15 757.05L53.37 777.00A33.40 33.40 0 0 1 52.24 775.39Z" fill="#7a7a7a"/>
<path d="M80.15 757.05L52.24 775.39A33.40 33.40 0 0 1 51.28 773.84Z" fill="#a4a4a4"/>
<path d="M80.15 757.05L51.28 773.84A33.40 33.40 0 0 1 50.35 772.13Z" fill="#8b8b8b"/>
<path d="M80.15 757.05L50.35 772.13A33.40 33.40 0 0 1 49.72 770.81Z" fill="#505050"/>
<path d="M80.15 757.05L49.72 770.81A33.40 33.40 0 0 1 49.10 769.35Z" fill="#8b8b8b"/>
<path d="M80.15 757.05L49.10 769.35A33.40 33.40 0 0 1 48.51 767.75Z" fill="#cfcfcf"/>
<path d="M80.15 757.05L48.51 767.75A33.40 33.40 0 0 1 48.01 766.14Z" fill="#717171"/>
<path d="M80.15 757.05L48.01 766.14A33.40 33.40 0 0 1 47.64 764.72Z" fill="#acacac"/>
<path d="M80.15 757.05L47.64 764.72A33.40 33.40 0 0 1 47.28 762.97Z" fill="#8b8b8b"/>
<path d="M80.15 757.05L47.28 762.97A33.40 33.40 0 0 1 47.01 761.25Z" fill="#c1c1c1"/>
<path d="M80.15 757.05L47.01 761.25A33.40 33.40 0 0 1 46.86 759.79Z" fill="#8b8b8b"/>
<path d="M80.15 757.05L46.86 759.79A33.40 33.40 0 0 1 46.78 758.41Z" fill="#696969"/>
<path d="M80.15 757.05L46.78 758.41A33.40 33.40 0 0 1 46.75 756.80Z" fill="#8b8b8b"/>
<path d="M80.15 757.05L46.75 756.80A33.40 33.40 0 0 1 46.79 755.33Z" fill="#cdcdcd"/>
<path d="M80.15 757.05L46.79 755.33A33.40 33.40 0 0 1 46.91 753.77Z" fill="#7e7e7e"/>
<path d="M80.15 757.05L46.91 753.77A33.40 33.40 0 0 1 47.09 752.30Z" fill="#9d9d9d"/>
<path d="M80.15 757.05L47.09 752.30A33.40 33.40 0 0 1 47.32 750.90Z" fill="#8b8b8b"/>
<path d="M80.15 757.05L47.32 750.90A33.40 33.40 0 0 1 47.57 749.69Z" fill="#616161"/>
<path d="M80.15 757.05L47.57 749.69A33.40 33.40 0 0 1 47.88 748.45Z" fill="#8b8b8b"/>
<path d="M80.15 757.05L47.88 748.45A33.40 33.40 0 0 1 48.27 747.10Z" fill="#bbbbbb"/>
<path d="M80.15 757.05L48.27 747.10A33.40 33.40 0 0 1 48.75 745.68Z" fill="#787878"/>
<path d="M80.15 757.05L48.75 745.68A33.40 33.40 0 0 1 49.23 744.41Z" fill="#a2a2a2"/>
<path d="M80.15 757.05L49.23 744.41A33.40 33.40 0 0 1 49.82 743.06Z" fill="#8b8b8b"/>
<path d="M80.15 757.05L49.82 743.06A33.40 33.40 0 0 1 50.42 741.82Z" fill="#b0b0b0"/>
<path d="M80.15 757.05L50.42 741.82A33.40 33.40 0 0 1 51.14 740.50Z" fill="#8b8b8b"/>
<path d="M80.15 757.05L51.14 740.50A33.40 33.40 0 0 1 51.85 739.31Z" fill="#737373"/>
<path d="M80.15 757.05L51.85 739.31A33.40 33.40 0 0 1 52.14 738.86Z" fill="#8b8b8b"/>
<circle cx="80.15" cy="757.05" r="33.40" fill="none" stroke="#262626" stroke-width="1"/>
</g>
<g>
<circle cx="165.50" cy="756.80" r="33.40" fill="#8b8b8b"/>
<path d="M165.50 756.80L165.50 723.40A33.40 33.40 0 0 1 173.01 724.26Z" fill="#131313" stroke="#222" stroke-width="0.3"/>
<path d="M165.50 756.80L173.01 724.26A33.40 33.40 0 0 1 182.20 727.87Z" fill="#8b8b8b" stroke="#222" stroke-width="0.3"/>
<path d="M165.50 756.80L182.20 727.87A33.40 33.40 0 0 1 187.85 731.98Z" fill="#707070" stroke="#222" stroke-width="0.3"/>
<path d="M165.50 756.80L187.85 731.98A33.40 33.40 0 0 1 191.82 736.24Z" fill="#d2d2d2" stroke="#222" stroke-width="0.3"/>
<path d="M165.50 756.80L191.82 736.24A33.40 33.40 0 0 1 194.43 740.10Z" fill="#4e4e4e" stroke="#222" stroke-width="0.3"/>
<path d="M165.50 756.80L194.43 740.10A33.40 33.40 0 0 1 196.89 745.38Z" fill="#8b8b8b" stroke="#222" stroke-width="0.3"/>
<path d="M165.50 756.80L196.89 745.38A33.40 33.40 0 0 1 198.04 749.29Z" fill="#484848" stroke="#222" stroke-width="0.3"/>
<path d="M165.50 756.80L198.04 749.29A33.40 33.40 0 0 1 198.88 755.63Z" fill="#f2f2f2" stroke="#222" stroke-width="0.3"/>
<path d="M165.50 756.80L198.88 755.63A33.40 33.40 0 0 1 198.72 760.24Z" fill="#767676"/>
<path d="M165.50 756.80L198.72 760.24A33.40 33.40 0 0 1 198.20 763.63Z" fill="#141414"/>
<path d="M165.50 756.80L198.20 763.63A33.40 33.40 0 0 1 197.22 767.25Z" fill="#9c9c9c"/>
<path d="M165.50 756.80L197.22 767.25A33.40 33.40 0 0 1 195.93 770.57Z" fill="#dedede"/>
<path d="M165.50 756.80L195.93 770.57A33.40 33.40 0 0 1 193.92 774.34Z" fill="#5e5e5e"/>
<path d="M165.50 756.80L193.92 774.34A33.40 33.40 0 0 1 191.59 777.65Z" fill="#a6a6a6"/>
<path d="M165.50 756.80L191.59 777.65A33.40 33.40 0 0 1 188.73 780.79Z" fill="#444444"/>
<path d="M165.50 756.80L188.73 780.79A33.40 33.40 0 0 1 186.51 782.77Z" fill="#c6c6c6"/>
<path d="M165.50 756.80L186.51 782.77A33.40 33.40 0 0 1 183.78 784.75Z" fill="#7e7e7e"/>
<path d="M165.50 756.80L183.78 784.75A33.40 33.40 0 0 1 181.41 786.17Z" fill="#f6f6f6"/>
<path d="M165.50 756.80L181.41 786.17A33.40 33.40 0 0 1 178.75 787.46Z" fill="#6e6e6e"/>
<path d="M165.50 756.80L178.75 787.46A33.40 33.40 0 0 1 175.70 788.61Z" fill="#8b8b8b"/>
<path d="M165.50 756.80L175.70 788.61A33.40 33.40 0 0 1 173.21 789.30Z" fill="#1c1c1c"/>
<path d="M165.50 756.80L173.21 789.30A33.40 33.40 0 0 1 170.51 789.82Z" fill="#b4b4b4"/>
<path d="M165.50 756.80L170.51 789.82A33.40 33.40 0 0 1 167.29 790.15Z" fill="#686868"/>
<path d="M165.50 756.80L167.29 790.15A33.40 33.40 0 0 1 164.25 790.18Z" fill="#e6e6e6"/>
<path d="M165.50 756.80L164.25 790.18A33.40 33.40 0 0 1 161.66 789.98Z" fill="#666666"/>
<path d="M165.50 756.80L161.66 789.98A33.40 33.40 0 0 1 158.73 789.51Z" fill="#8b8b8b"/>
<path d="M165.50 756.80L158.73 789.51A33.40 33.40 0 0 1 155.67 788.72Z" fill="#6c6c6c"/>
<path d="M165.50 756.80L155.67 788.72A33.40 33.40 0 0 1 153.59 788.01Z" fill="#d2d2d2"/>
<path d="M165.50 756.80L153.59 788.01A33.40 33.40 0 0 1 150.82 786.80Z" fill="#505050"/>
<path d="M165.50 756.80L150.82 786.80A33.40 33.40 0 0 1 148.32 785.44Z" fill="#929292"/>
<path d="M165.50 756.80L148.32 785.44A33.40 33.40 0 0 1 146.29 784.12Z" fill="#464646"/>
<path d="M165.50 756.80L146.29 784.12A33.40 33.40 0 0 1 144.54 782.80Z" fill="#f0f0f0"/>
<path d="M165.50 756.80L144.54 782.80A33.40 33.40 0 0 1 142.32 780.85Z" fill="#767676"/>
<path d="M165.50 756.80L142.32 780.85A33.40 33.40 0 0 1 140.73 779.21Z" fill="#141414"/>
<path d="M165.50 756.80L140.73 779.21A33.40 33.40 0 0 1 139.43 777.68Z" fill="#9c9c9c"/>
<path d="M165.50 756.80L139.43 777.68A33.40 33.40 0 0 1 138.23 776.09Z" fill="#dedede"/>
<path d="M165.50 756.80L138.23 776.09A33.40 33.40 0 0 1 138.14 775.96Z" fill="#5e5e5e"/>
<path d="M165.50 756.80L138.14 775.96A33.40 33.40 0 0 1 137.08 774.35Z" fill="#8b8b8b"/>
<path d="M165.50 756.80L137.08 774.35A33.40 33.40 0 0 1 136.08 772.61Z" fill="#d4d4d4"/>
<path d="M165.50 756.80L136.08 772.61A33.40 33.40 0 0 1 135.20 770.86Z" fill="#8b8b8b"/>
<path d="M165.50 756.80L135.20 770.86A33.40 33.40 0 0 1 134.48 769.19Z" fill="#5c5c5c"/>
<path d="M165.50 756.80L134.48 769.19A33.40 33.40 0 0 1 133.79 767.28Z" fill="#8b8b8b"/>
<path d="M165.50 756.80L133.79 767.28A33.40 33.40 0 0 1 133.29 765.65Z" fill="#e6e6e6"/>
<path d="M165.50 756.80L133.29 765.65A33.40 33.40 0 0 1 132.87 763.93Z" fill="#7a7a7a"/>
<path d="M165.50 756.80L132.87 763.93A33.40 33.40 0 0 1 132.52 762.07Z" fill="#a4a4a4"/>
<path d="M165.50 756.80L132.52 762.07A33.40 33.40 0 0 1 132.29 760.32Z" fill="#8b8b8b"/>
<path d="M165.50 756.80L132.29 760.32A33.40 33.40 0 0 1 132.14 758.46Z" fill="#4f4f4f"/>
<path d="M165.50 756.80L132.14 758.46A33.40 33.40 0 0 1 132.10 756.76Z" fill="#8b8b8b"/>
<path d="M165.50 756.80L132.10 756.76A33.40 33.40 0 0 1 132.15 755.01Z" fill="#d1d1d1"/>
<path d="M165.50 756.80L132.15 755.01A33.40 33.40 0 0 1 132.25 753.61Z" fill="#707070"/>
<path d="M165.50 756.80L132.25 753.61A33.40 33.40 0 0 1 132.43 752.14Z" fill="#adadad"/>
<path d="M165.50 756.80L132.43 752.14A33.40 33.40 0 0 1 132.67 750.66Z" fill="#8b8b8b"/>
<path d="M165.50 756.80L132.67 750.66A33.40 33.40 0 0 1 132.95 749.30Z" fill="#c3c3c3"/>
<path d="M165.50 756.80L132.95 749.30A33.40 33.40 0 0 1 133.31 747.91Z" fill="#8b8b8b"/>
<path d="M165.50 756.80L133.31 747.91A33.40 33.40 0 0 1 133.70 746.60Z" fill="#676767"/>
<path d="M165.50 756.80L133.70 746.60A33.40 33.40 0 0 1 134.16 745.24Z" fill="#8b8b8b"/>
<path d="M165.50 756.80L134.16 745.24A33.40 33.40 0 0 1 134.75 743.77Z" fill="#d1d1d1"/>
<path d="M165.50 756.80L134.75 743.77A33.40 33.40 0 0 1 135.34 742.45Z" fill="#7e7e7e"/>
<path d="M165.50 756.80L135.34 742.45A33.40 33.40 0 0 1 135.98 741.17Z" fill="#9e9e9e"/>
<path d="M165.50 756.80L135.98 741.17A33.40 33.40 0 0 1 136.63 740.00Z" fill="#8b8b8b"/>
<path d="M165.50 756.80L136.63 740.00A33.40 33.40 0 0 1 137.34 738.84Z" fill="#5d5d5d"/>
<path d="M165.50 756.80L137.34 738.84A33.40 33.40 0 0 1 138.25 737.48Z" fill="#8b8b8b"/>
<path d="M165.50 756.80L138.25 737.48A33.40 33.40 0 0 1 139.14 736.28Z" fill="#c0c0c0"/>
<path d="M165.50 756.80L139.14 736.28A33.40 33.40 0 0 1 140.06 735.15Z" fill="#777777"/>
<path d="M165.50 756.80L140.06 735.15A33.40 33.40 0 0 1 140.90 734.21Z" fill="#a5a5a5"/>
<path d="M165.50 756.80L140.90 734.21A33.40 33.40 0 0 1 141.92 733.14Z" fill="#8b8b8b"/>
<path d="M165.50 756.80L141.92 733.14A33.40 33.40 0 0 1 142.81 732.29Z" fill="#b4b4b4"/>
<path d="M165.50 756.80L142.81 732.29A33.40 33.40 0 0 1 143.78 731.42Z" fill="#8b8b8b"/>
<path d="M165.50 756.80L143.78 731.42A33.40 33.40 0 0 1 144.97 730.45Z" fill="#707070"/>
<path d="M165.50 756.80L144.97 730.45A33.40 33.40 0 0 1 146.08 729.63Z" fill="#8b8b8b"/>
<path d="M165.50 756.80L146.08 729.63A33.40 33.40 0 0 1 146.34 729.44Z" fill="#bdbdbd"/>
<circle cx="165.50" cy="756.80" r="33.40" fill="none" stroke="#262626" stroke-width="1"/>
</g>
<g>
<circle cx="249.15" cy="757.05" r="33.40" fill="#8b8b8b"/>
<path d="M249.15 757.05L249.15 723.65A33.40 33.40 0 0 1 263.27 726.78Z" fill="#131313" stroke="#222" stroke-width="0.3"/>
<path d="M249.15 757.05L263.27 726.78A33.40 33.40 0 0 1 272.77 733.43Z" fill="#8b8b8b" stroke="#222" stroke-width="0.3"/>
<path d="M249.15 757.05L272.77 733.43A33.40 33.40 0 0 1 278.64 741.37Z" fill="#6c6c6c" stroke="#222" stroke-width="0.3"/>
<path d="M249.15 757.05L278.64 741.37A33.40 33.40 0 0 1 281.26 747.84Z" fill="#d2d2d2" stroke="#222" stroke-width="0.3"/>
<path d="M249.15 757.05L281.26 747.84A33.40 33.40 0 0 1 282.37 753.56Z" fill="#4e4e4e" stroke="#222" stroke-width="0.3"/>
<path d="M249.15 757.05L282.37 753.56A33.40 33.40 0 0 1 282.37 760.54Z" fill="#8b8b8b" stroke="#222" stroke-width="0.3"/>
<path d="M249.15 757.05L282.37 760.54A33.40 33.40 0 0 1 281.56 765.13Z" fill="#484848" stroke="#222" stroke-width="0.3"/>
<path d="M249.15 757.05L281.56 765.13A33.40 33.40 0 0 1 279.66 770.64Z" fill="#f2f2f2" stroke="#222" stroke-width="0.3"/>
<path d="M249.15 757.05L279.66 770.64A33.40 33.40 0 0 1 278.04 773.81Z" fill="#767676"/>
<path d="M249.15 757.05L278.04 773.81A33.40 33.40 0 0 1 275.47 777.61Z" fill="#141414"/>
<path d="M249.15 757.05L275.47 777.61A33.40 33.40 0 0 1 273.15 780.28Z" fill="#9c9c9c"/>
<path d="M249.15 757.05L273.15 780.28A33.40 33.40 0 0 1 270.23 782.96Z" fill="#dedede"/>
<path d="M249.15 757.05L270.23 782.96A33.40 33.40 0 0 1 266.83 785.38Z" fill="#5e5e5e"/>
<path d="M249.15 757.05L266.83 785.38A33.40 33.40 0 0 1 263.11 787.39Z" fill="#a6a6a6"/>
<path d="M249.15 757.05L263.11 787.39A33.40 33.40 0 0 1 259.75 788.72Z" fill="#444444"/>
<path d="M249.15 757.05L259.75 788.72A33.40 33.40 0 0 1 256.29 789.68Z" fill="#c6c6c6"/>
<path d="M249.15 757.05L256.29 789.68A33.40 33.40 0 0 1 253.51 790.16Z" fill="#7e7e7e"/>
<path d="M249.15 757.05L253.51 790.16A33.40 33.40 0 0 1 250.19 790.43Z" fill="#f6f6f6"/>
<path d="M249.15 757.05L250.19 790.43A33.40 33.40 0 0 1 247.02 790.38Z" fill="#6e6e6e"/>
<path d="M249.15 757.05L247.02 790.38A33.40 33.40 0 0 1 243.31 789.94Z" fill="#8b8b8b"/>
<path d="M249.15 757.05L243.31 789.94A33.40 33.40 0 0 1 240.15 789.21Z" fill="#1c1c1c"/>
<path d="M249.15 757.05L240.15 789.21A33.40 33.40 0 0 1 236.90 788.12Z" fill="#b4b4b4"/>
<path d="M249.15 757.05L236.90 788.12A33.40 33.40 0 0 1 234.20 786.92Z" fill="#686868"/>
<path d="M249.15 757.05L234.20 786.92A33.40 33.40 0 0 1 231.93 785.67Z" fill="#e6e6e6"/>
<path d="M249.15 757.05L231.93 785.67A33.40 33.40 0 0 1 229.17 783.82Z" fill="#666666"/>
<path d="M249.15 757.05L229.17 783.82A33.40 33.40 0 0 1 226.69 781.77Z" fill="#8b8b8b"/>
<path d="M249.15 757.05L226.69 781.77A33.40 33.40 0 0 1 224.80 779.91Z" fill="#6c6c6c"/>
<path d="M249.15 757.05L224.80 779.91A33.40 33.40 0 0 1 223.29 778.19Z" fill="#d2d2d2"/>
<path d="M249.15 757.05L223.29 778.19A33.40 33.40 0 0 1 221.67 776.03Z" fill="#505050"/>
<path d="M249.15 757.05L221.67 776.03A33.40 33.40 0 0 1 220.26 773.81Z" fill="#929292"/>
<path d="M249.15 757.05L220.26 773.81A33.40 33.40 0 0 1 218.93 771.27Z" fill="#464646"/>
<path d="M249.15 757.05L218.93 771.27A33.40 33.40 0 0 1 217.90 768.84Z" fill="#f0f0f0"/>
<path d="M249.15 757.05L217.90 768.84A33.40 33.40 0 0 1 217.11 766.47Z" fill="#767676"/>
<path d="M249.15 757.05L217.11 766.47A33.40 33.40 0 0 1 216.49 764.03Z" fill="#141414"/>
<path d="M249.15 757.05L216.49 764.03A33.40 33.40 0 0 1 216.09 761.79Z" fill="#9c9c9c"/>
<path d="M249.15 757.05L216.09 761.79A33.40 33.40 0 0 1 215.88 759.96Z" fill="#dedede"/>
<path d="M249.15 757.05L215.88 759.96A33.40 33.40 0 0 1 215.78 758.34Z" fill="#8b8b8b"/>
<path d="M249.15 757.05L215.78 758.34A33.40 33.40 0 0 1 215.76 756.25Z" fill="#d4d4d4"/>
<path d="M249.15 757.05L215.76 756.25A33.40 33.40 0 0 1 215.87 754.25Z" fill="#8b8b8b"/>
<path d="M249.15 757.05L215.87 754.25A33.40 33.40 0 0 1 216.05 752.57Z" fill="#5c5c5c"/>
<path d="M249.15 757.05L216.05 752.57A33.40 33.40 0 0 1 216.38 750.61Z" fill="#8b8b8b"/>
<path d="M249.15 757.05L216.38 750.61A33.40 33.40 0 0 1 216.76 748.88Z" fill="#e6e6e6"/>
<path d="M249.15 757.05L216.76 748.88A33.40 33.40 0 0 1 217.17 747.41Z" fill="#7a7a7a"/>
<path d="M249.15 757.05L217.17 747.41A33.40 33.40 0 0 1 217.77 745.61Z" fill="#a4a4a4"/>
<path d="M249.15 757.05L217.77 745.61A33.40 33.40 0 0 1 218.41 743.99Z" fill="#8b8b8b"/>
<path d="M249.15 757.05L218.41 743.99A33.40 33.40 0 0 1 219.20 742.27Z" fill="#4f4f4f"/>
<path d="M249.15 757.05L219.20 742.27A33.40 33.40 0 0 1 220.01 740.72Z" fill="#8b8b8b"/>
<path d="M249.15 757.05L220.01 740.72A33.40 33.40 0 0 1 220.74 739.49Z" fill="#d0d0d0"/>
<path d="M249.15 757.05L220.74 739.49A33.40 33.40 0 0 1 221.66 738.08Z" fill="#717171"/>
<path d="M249.15 757.05L221.66 738.08A33.40 33.40 0 0 1 222.68 736.68Z" fill="#adadad"/>
<path d="M249.15 757.05L222.68 736.68A33.40 33.40 0 0 1 223.79 735.31Z" fill="#8b8b8b"/>
<path d="M249.15 757.05L223.79 735.31A33.40 33.40 0 0 1 224.78 734.21Z" fill="#c1c1c1"/>
<path d="M249.15 757.05L224.78 734.21A33.40 33.40 0 0 1 225.87 733.10Z" fill="#8b8b8b"/>
<path d="M249.15 757.05L225.87 733.10A33.40 33.40 0 0 1 227.06 732.00Z" fill="#686868"/>
<path d="M249.15 757.05L227.06 732.00A33.40 33.40 0 0 1 228.09 731.13Z" fill="#8b8b8b"/>
<path d="M249.15 757.05L228.09 731.13A33.40 33.40 0 0 1 229.39 730.12Z" fill="#cdcdcd"/>
<path d="M249.15 757.05L229.39 730.12A33.40 33.40 0 0 1 230.70 729.21Z" fill="#7e7e7e"/>
<path d="M249.15 757.05L230.70 729.21A33.40 33.40 0 0 1 231.75 728.54Z" fill="#9d9d9d"/>
<path d="M249.15 757.05L231.75 728.54A33.40 33.40 0 0 1 233.03 727.80Z" fill="#8b8b8b"/>
<path d="M249.15 757.05L233.03 727.80A33.40 33.40 0 0 1 234.24 727.16Z" fill="#606060"/>
<path d="M249.15 757.05L234.24 727.16A33.40 33.40 0 0 1 235.39 726.62Z" fill="#8b8b8b"/>
<path d="M249.15 757.05L235.39 726.62A33.40 33.40 0 0 1 236.70 726.06Z" fill="#bcbcbc"/>
<path d="M249.15 757.05L236.70 726.06A33.40 33.40 0 0 1 238.17 725.51Z" fill="#787878"/>
<path d="M249.15 757.05L238.17 725.51A33.40 33.40 0 0 1 239.48 725.08Z" fill="#a3a3a3"/>
<path d="M249.15 757.05L239.48 725.08A33.40 33.40 0 0 1 240.62 724.76Z" fill="#8b8b8b"/>
<path d="M249.15 757.05L240.62 724.76A33.40 33.40 0 0 1 241.90 724.45Z" fill="#b1b1b1"/>
<path d="M249.15 757.05L241.90 724.45A33.40 33.40 0 0 1 242.21 724.38Z" fill="#8b8b8b"/>
<circle cx="249.15" cy="757.05" r="33.40" fill="none" stroke="#262626" stroke-width="1"/>
</g>
<g>
<circle cx="331.90" cy="757.15" r="33.40" fill="#8b8b8b"/>
<path d="M331.90 757.15L331.90 723.75A33.40 33.40 0 0 1 340.54 724.89Z" fill="#131313" stroke="#222" stroke-width="0.3"/>
<path d="M331.90 757.15L340.54 724.89A33.40 33.40 0 0 1 349.60 728.83Z" fill="#8b8b8b" stroke="#222" stroke-width="0.3"/>
<path d="M331.90 757.15L349.60 728.83A33.40 33.40 0 0 1 355.93 733.95Z" fill="#6c6c6c" stroke="#222" stroke-width="0.3"/>
<path d="M331.90 757.15L355.93 733.95A33.40 33.40 0 0 1 359.91 738.96Z" fill="#d2d2d2" stroke="#222" stroke-width="0.3"/>
<path d="M331.90 757.15L359.91 738.96A33.40 33.40 0 0 1 362.41 743.56Z" fill="#4e4e4e" stroke="#222" stroke-width="0.3"/>
<path d="M331.90 757.15L362.41 743.56A33.40 33.40 0 0 1 364.57 750.21Z" fill="#8b8b8b" stroke="#222" stroke-width="0.3"/>
<path d="M331.90 757.15L364.57 750.21A33.40 33.40 0 0 1 365.22 754.82Z" fill="#484848" stroke="#222" stroke-width="0.3"/>
<path d="M331.90 757.15L365.22 754.82A33.40 33.40 0 0 1 365.12 760.64Z" fill="#f2f2f2" stroke="#222" stroke-width="0.3"/>
<path d="M331.90 757.15L365.12 760.64A33.40 33.40 0 0 1 364.41 764.79Z" fill="#767676"/>
<path d="M331.90 757.15L364.41 764.79A33.40 33.40 0 0 1 363.16 768.92Z" fill="#141414"/>
<path d="M331.90 757.15L363.16 768.92A33.40 33.40 0 0 1 361.19 773.21Z" fill="#9c9c9c"/>
<path d="M331.90 757.15L361.19 773.21A33.40 33.40 0 0 1 359.36 776.17Z" fill="#dedede"/>
<path d="M331.90 757.15L359.36 776.17A33.40 33.40 0 0 1 357.23 778.92Z" fill="#5e5e5e"/>
<path d="M331.90 757.15L357.23 778.92A33.40 33.40 0 0 1 355.11 781.17Z" fill="#a6a6a6"/>
<path d="M331.90 757.15L355.11 781.17A33.40 33.40 0 0 1 352.74 783.25Z" fill="#444444"/>
<path d="M331.90 757.15L352.74 783.25A33.40 33.40 0 0 1 350.37 784.98Z" fill="#c6c6c6"/>
<path d="M331.90 757.15L350.37 784.98A33.40 33.40 0 0 1 347.72 786.57Z" fill="#7e7e7e"/>
<path d="M331.90 757.15L347.72 786.57A33.40 33.40 0 0 1 344.53 788.07Z" fill="#f6f6f6"/>
<path d="M331.90 757.15L344.53 788.07A33.40 33.40 0 0 1 340.65 789.38Z" fill="#6e6e6e"/>
<path d="M331.90 757.15L340.65 789.38A33.40 33.40 0 0 1 337.15 790.14Z" fill="#8b8b8b"/>
<path d="M331.90 757.15L337.15 790.14A33.40 33.40 0 0 1 334.07 790.48Z" fill="#1c1c1c"/>
<path d="M331.90 757.15L334.07 790.48A33.40 33.40 0 0 1 331.01 790.54Z" fill="#b4b4b4"/>
<path d="M331.90 757.15L331.01 790.54A33.40 33.40 0 0 1 327.67 790.28Z" fill="#686868"/>
<path d="M331.90 757.15L327.67 790.28A33.40 33.40 0 0 1 324.87 789.80Z" fill="#e6e6e6"/>
<path d="M331.90 757.15L324.87 789.80A33.40 33.40 0 0 1 322.47 789.19Z" fill="#666666"/>
<path d="M331.90 757.15L322.47 789.19A33.40 33.40 0 0 1 319.32 788.09Z" fill="#8b8b8b"/>
<path d="M331.90 757.15L319.32 788.09A33.40 33.40 0 0 1 316.59 786.83Z" fill="#6c6c6c"/>
<path d="M331.90 757.15L316.59 786.83A33.40 33.40 0 0 1 314.51 785.67Z" fill="#d2d2d2"/>
<path d="M331.90 757.15L314.51 785.67A33.40 33.40 0 0 1 312.60 784.41Z" fill="#505050"/>
<path d="M331.90 757.15L312.60 784.41A33.40 33.40 0 0 1 310.78 783.02Z" fill="#929292"/>
<path d="M331.90 757.15L310.78 783.02A33.40 33.40 0 0 1 308.41 780.90Z" fill="#464646"/>
<path d="M331.90 757.15L308.41 780.90A33.40 33.40 0 0 1 306.89 779.29Z" fill="#f0f0f0"/>
<path d="M331.90 757.15L306.89 779.29A33.40 33.40 0 0 1 305.17 777.18Z" fill="#767676"/>
<path d="M331.90 757.15L305.17 777.18A33.40 33.40 0 0 1 303.47 774.69Z" fill="#141414"/>
<path d="M331.90 757.15L303.47 774.69A33.40 33.40 0 0 1 302.46 772.93Z" fill="#9c9c9c"/>
<path d="M331.90 757.15L302.46 772.93A33.40 33.40 0 0 1 301.43 770.83Z" fill="#dedede"/>
<path d="M331.90 757.15L301.43 770.83A33.40 33.40 0 0 1 300.53 768.61Z" fill="#5e5e5e"/>
<path d="M331.90 757.15L300.53 768.61A33.40 33.40 0 0 1 299.68 765.96Z" fill="#a6a6a6"/>
<path d="M331.90 757.15L299.68 765.96A33.40 33.40 0 0 1 299.64 765.79Z" fill="#444444"/>
<path d="M331.90 757.15L299.64 765.79A33.40 33.40 0 0 1 299.23 764.11Z" fill="#8b8b8b"/>
<path d="M331.90 757.15L299.23 764.11A33.40 33.40 0 0 1 298.92 762.43Z" fill="#d4d4d4"/>
<path d="M331.90 757.15L298.92 762.43A33.40 33.40 0 0 1 298.71 760.87Z" fill="#8b8b8b"/>
<path d="M331.90 757.15L298.71 760.87A33.40 33.40 0 0 1 298.55 758.97Z" fill="#5c5c5c"/>
<path d="M331.90 757.15L298.55 758.97A33.40 33.40 0 0 1 298.50 757.01Z" fill="#8b8b8b"/>
<path d="M331.90 757.15L298.50 757.01A33.40 33.40 0 0 1 298.55 755.28Z" fill="#e7e7e7"/>
<path d="M331.90 757.15L298.55 755.28A33.40 33.40 0 0 1 298.67 753.78Z" fill="#797979"/>
<path d="M331.90 757.15L298.67 753.78A33.40 33.40 0 0 1 298.91 751.95Z" fill="#a4a4a4"/>
<path d="M331.90 757.15L298.91 751.95A33.40 33.40 0 0 1 299.24 750.15Z" fill="#8b8b8b"/>
<path d="M331.90 757.15L299.24 750.15A33.40 33.40 0 0 1 299.66 748.43Z" fill="#4f4f4f"/>
<path d="M331.90 757.15L299.66 748.43A33.40 33.40 0 0 1 300.11 746.91Z" fill="#8b8b8b"/>
<path d="M331.90 757.15L300.11 746.91A33.40 33.40 0 0 1 300.71 745.20Z" fill="#d1d1d1"/>
<path d="M331.90 757.15L300.71 745.20A33.40 33.40 0 0 1 301.36 743.63Z" fill="#707070"/>
<path d="M331.90 757.15L301.36 743.63A33.40 33.40 0 0 1 302.07 742.13Z" fill="#adadad"/>
<path d="M331.90 757.15L302.07 742.13A33.40 33.40 0 0 1 302.83 740.70Z" fill="#8b8b8b"/>
<path d="M331.90 757.15L302.83 740.70A33.40 33.40 0 0 1 303.57 739.45Z" fill="#c2c2c2"/>
<path d="M331.90 757.15L303.57 739.45A33.40 33.40 0 0 1 304.42 738.16Z" fill="#8b8b8b"/>
<path d="M331.90 757.15L304.42 738.16A33.40 33.40 0 0 1 305.41 736.81Z" fill="#676767"/>
<path d="M331.90 757.15L305.41 736.81A33.40 33.40 0 0 1 306.42 735.55Z" fill="#8b8b8b"/>
<path d="M331.90 757.15L306.42 735.55A33.40 33.40 0 0 1 307.38 734.47Z" fill="#cfcfcf"/>
<path d="M331.90 757.15L307.38 734.47A33.40 33.40 0 0 1 308.52 733.30Z" fill="#7e7e7e"/>
<path d="M331.90 757.15L308.52 733.30A33.40 33.40 0 0 1 309.71 732.19Z" fill="#9d9d9d"/>
<path d="M331.90 757.15L309.71 732.19A33.40 33.40 0 0 1 310.66 731.37Z" fill="#8b8b8b"/>
<path d="M331.90 757.15L310.66 731.37A33.40 33.40 0 0 1 311.68 730.57Z" fill="#5e5e5e"/>
<path d="M331.90 757.15L311.68 730.57A33.40 33.40 0 0 1 312.74 729.79Z" fill="#8b8b8b"/>
<path d="M331.90 757.15L312.74 729.79A33.40 33.40 0 0 1 313.74 729.12Z" fill="#bfbfbf"/>
<path d="M331.90 757.15L313.74 729.12A33.40 33.40 0 0 1 315.02 728.33Z" fill="#777777"/>
<path d="M331.90 757.15L315.02 728.33A33.40 33.40 0 0 1 316.29 727.62Z" fill="#a4a4a4"/>
<path d="M331.90 757.15L316.29 727.62A33.40 33.40 0 0 1 317.53 727.00Z" fill="#8b8b8b"/>
<path d="M331.90 757.15L317.53 727.00A33.40 33.40 0 0 1 318.95 726.36Z" fill="#b3b3b3"/>
<path d="M331.90 757.15L318.95 726.36A33.40 33.40 0 0 1 320.13 725.89Z" fill="#8b8b8b"/>
<path d="M331.90 757.15L320.13 725.89A33.40 33.40 0 0 1 321.27 725.49Z" fill="#717171"/>
<path d="M331.90 757.15L321.27 725.49A33.40 33.40 0 0 1 321.58 725.38Z" fill="#8b8b8b"/>
<circle cx="331.90" cy="757.15" r="33.40" fill="none" stroke="#262626" stroke-width="1"/>
</g>
<text x="49.70" y="797.50" font-size="9.5" textLength="60.50" lengthAdjust="spacing" stroke="#1c1c1c" stroke-width="0.22">N=320 Di= 0.988</text>
<text x="134.70" y="797.50" font-size="9.5" textLength="62.40" lengthAdjust="spacing" stroke="#1c1c1c" stroke-width="0.22">N=228 Di= 0.984</text>
<text x="218.70" y="797.50" font-size="9.5" textLength="61.50" lengthAdjust="spacing" stroke="#1c1c1c" stroke-width="0.22">N=263 Di= 0.978</text>
<text x="301.80" y="797.50" font-size="9.5" textLength="62.40" lengthAdjust="spacing" stroke="#1c1c1c" stroke-width="0.22">N=225 Di= 0.983</text>
<g>
<path d="M404.40 29.00V129.20H470.80" fill="none" stroke="#111111" stroke-width="1.4" stroke-linejoin="miter"/>
<line x1="402.00" y1="129.20" x2="404.40" y2="129.20" stroke="#111111" stroke-width="1.25"/>
<text x="400.90" y="131.95" font-size="8.8" text-anchor="end" stroke="#1c1c1c" stroke-width="0.2">0.0</text>
<line x1="402.00" y1="109.28" x2="404.40" y2="109.28" stroke="#111111" stroke-width="1.25"/>
<text x="400.90" y="112.03" font-size="8.8" text-anchor="end" stroke="#1c1c1c" stroke-width="0.2">0.2</text>
<line x1="402.00" y1="89.36" x2="404.40" y2="89.36" stroke="#111111" stroke-width="1.25"/>
<text x="400.90" y="92.11" font-size="8.8" text-anchor="end" stroke="#1c1c1c" stroke-width="0.2">0.4</text>
<line x1="402.00" y1="69.44" x2="404.40" y2="69.44" stroke="#111111" stroke-width="1.25"/>
<text x="400.90" y="72.19" font-size="8.8" text-anchor="end" stroke="#1c1c1c" stroke-width="0.2">0.6</text>
<line x1="402.00" y1="49.52" x2="404.40" y2="49.52" stroke="#111111" stroke-width="1.25"/>
<text x="400.90" y="52.27" font-size="8.8" text-anchor="end" stroke="#1c1c1c" stroke-width="0.2">0.8</text>
<line x1="402.00" y1="29.60" x2="404.40" y2="29.60" stroke="#111111" stroke-width="1.25"/>
<text x="400.90" y="32.35" font-size="8.8" text-anchor="end" stroke="#1c1c1c" stroke-width="0.2">1.0</text>
<line x1="415.30" y1="129.20" x2="415.30" y2="132.10" stroke="#111111" stroke-width="1.25"/>
<line x1="437.60" y1="129.20" x2="437.60" y2="132.10" stroke="#111111" stroke-width="1.25"/>
<line x1="460.00" y1="129.20" x2="460.00" y2="132.10" stroke="#111111" stroke-width="1.25"/>
<polyline points="415.30,34.68 437.60,29.70 460.00,30.60" fill="none" stroke="#111111" stroke-width="0.9"/>
<polyline points="415.30,115.46 437.60,79.30 460.00,33.38" fill="none" stroke="#111111" stroke-width="0.9"/>
<rect x="413.65" y="33.03" width="3.3" height="3.3" fill="#111111"/>
<rect x="435.95" y="28.05" width="3.3" height="3.3" fill="#111111"/>
<rect x="458.35" y="28.95" width="3.3" height="3.3" fill="#111111"/>
<circle cx="415.30" cy="115.46" r="1.75" fill="#111111"/>
<circle cx="437.60" cy="79.30" r="1.75" fill="#111111"/>
<circle cx="460.00" cy="33.38" r="1.75" fill="#111111"/>
<text x="421.50" y="24.00" font-size="8.2" textLength="31.40" lengthAdjust="spacing" stroke="#1c1c1c" stroke-width="0.18">Patient 1</text>
<text font-size="9.2" stroke="#0c0c0c" stroke-width="0.3" text-anchor="start" textLength="92.70" lengthAdjust="spacing" transform="translate(382.00,125.60) rotate(-90)" fill="#0c0c0c">Simpson's index of diversity</text>
<text font-size="8.8" stroke="#1c1c1c" stroke-width="0.2" text-anchor="end" transform="translate(417.60,136.40) rotate(-45)" textLength="37.87" lengthAdjust="spacing">Pre 1 month</text>
<text font-size="8.8" stroke="#1c1c1c" stroke-width="0.2" text-anchor="end" transform="translate(439.90,136.40) rotate(-45)" textLength="48.30" lengthAdjust="spacing">Post 10 months</text>
<text font-size="8.8" stroke="#1c1c1c" stroke-width="0.2" text-anchor="end" transform="translate(462.30,136.40) rotate(-45)" textLength="35.16" lengthAdjust="spacing">Post 1 year</text>
<text x="418.60" y="179.60" font-size="8.6" textLength="52.20" lengthAdjust="spacing" stroke="#1c1c1c" stroke-width="0.18">Time to aSCT</text>
</g>
<g>
<path d="M408.00 199.90V299.20H475.80" fill="none" stroke="#111111" stroke-width="1.4" stroke-linejoin="miter"/>
<line x1="405.60" y1="299.20" x2="408.00" y2="299.20" stroke="#111111" stroke-width="1.25"/>
<text x="403.60" y="301.20" font-size="9.2" text-anchor="end" stroke="#1c1c1c" stroke-width="0.2">0.0</text>
<line x1="405.60" y1="279.46" x2="408.00" y2="279.46" stroke="#111111" stroke-width="1.25"/>
<text x="403.60" y="281.46" font-size="9.2" text-anchor="end" stroke="#1c1c1c" stroke-width="0.2">0.2</text>
<line x1="405.60" y1="259.72" x2="408.00" y2="259.72" stroke="#111111" stroke-width="1.25"/>
<text x="403.60" y="261.72" font-size="9.2" text-anchor="end" stroke="#1c1c1c" stroke-width="0.2">0.4</text>
<line x1="405.60" y1="239.98" x2="408.00" y2="239.98" stroke="#111111" stroke-width="1.25"/>
<text x="403.60" y="241.98" font-size="9.2" text-anchor="end" stroke="#1c1c1c" stroke-width="0.2">0.6</text>
<line x1="405.60" y1="220.24" x2="408.00" y2="220.24" stroke="#111111" stroke-width="1.25"/>
<text x="403.60" y="222.24" font-size="9.2" text-anchor="end" stroke="#1c1c1c" stroke-width="0.2">0.8</text>
<line x1="405.60" y1="200.50" x2="408.00" y2="200.50" stroke="#111111" stroke-width="1.25"/>
<text x="403.60" y="202.50" font-size="9.2" text-anchor="end" stroke="#1c1c1c" stroke-width="0.2">1.0</text>
<line x1="416.80" y1="299.20" x2="416.80" y2="302.10" stroke="#111111" stroke-width="1.25"/>
<line x1="433.80" y1="299.20" x2="433.80" y2="302.10" stroke="#111111" stroke-width="1.25"/>
<line x1="451.00" y1="299.20" x2="451.00" y2="302.10" stroke="#111111" stroke-width="1.25"/>
<line x1="468.40" y1="299.20" x2="468.40" y2="302.10" stroke="#111111" stroke-width="1.25"/>
<polyline points="416.80,201.19 433.80,201.68 451.00,201.78 468.40,200.89" fill="none" stroke="#111111" stroke-width="0.9"/>
<polyline points="416.80,249.85 433.80,235.74 451.00,220.14 468.40,223.40" fill="none" stroke="#111111" stroke-width="0.9"/>
<rect x="415.15" y="199.54" width="3.3" height="3.3" fill="#111111"/>
<rect x="432.15" y="200.03" width="3.3" height="3.3" fill="#111111"/>
<rect x="449.35" y="200.13" width="3.3" height="3.3" fill="#111111"/>
<rect x="466.75" y="199.24" width="3.3" height="3.3" fill="#111111"/>
<circle cx="416.80" cy="249.85" r="1.75" fill="#111111"/>
<circle cx="433.80" cy="235.74" r="1.75" fill="#111111"/>
<circle cx="451.00" cy="220.14" r="1.75" fill="#111111"/>
<circle cx="468.40" cy="223.40" r="1.75" fill="#111111"/>
<text x="421.50" y="193.40" font-size="8.2" textLength="32.30" lengthAdjust="spacing" stroke="#1c1c1c" stroke-width="0.18">Patient 2</text>
<text font-size="9.2" stroke="#0c0c0c" stroke-width="0.3" text-anchor="start" textLength="91.40" lengthAdjust="spacing" transform="translate(382.90,295.40) rotate(-90)" fill="#0c0c0c">Simpson's Index of Diversity</text>
<text font-size="8.8" stroke="#1c1c1c" stroke-width="0.2" text-anchor="end" transform="translate(418.10,304.60) rotate(-45)" textLength="44.69" lengthAdjust="spacing">Pre 11 months</text>
<text font-size="8.8" stroke="#1c1c1c" stroke-width="0.2" text-anchor="end" transform="translate(435.10,304.60) rotate(-45)" textLength="44.44" lengthAdjust="spacing">Post 3 months</text>
<text font-size="8.8" stroke="#1c1c1c" stroke-width="0.2" text-anchor="end" transform="translate(452.30,304.60) rotate(-45)" textLength="44.44" lengthAdjust="spacing">Post 6 months</text>
<text font-size="8.8" stroke="#1c1c1c" stroke-width="0.2" text-anchor="end" transform="translate(469.70,304.60) rotate(-45)" textLength="44.44" lengthAdjust="spacing">Post 3.5 years</text>
<text x="413.30" y="348.60" font-size="8.6" textLength="53.30" lengthAdjust="spacing" stroke="#1c1c1c" stroke-width="0.18">Time to aSCT</text>
</g>
<g>
<path d="M408.10 372.20V472.00H474.70" fill="none" stroke="#111111" stroke-width="1.4" stroke-linejoin="miter"/>
<line x1="405.70" y1="472.00" x2="408.10" y2="472.00" stroke="#111111" stroke-width="1.25"/>
<text x="403.90" y="473.90" font-size="8.6" text-anchor="end" stroke="#1c1c1c" stroke-width="0.2">0.0</text>
<line x1="405.70" y1="452.16" x2="408.10" y2="452.16" stroke="#111111" stroke-width="1.25"/>
<text x="403.90" y="454.06" font-size="8.6" text-anchor="end" stroke="#1c1c1c" stroke-width="0.2">0.2</text>
<line x1="405.70" y1="432.32" x2="408.10" y2="432.32" stroke="#111111" stroke-width="1.25"/>
<text x="403.90" y="434.22" font-size="8.6" text-anchor="end" stroke="#1c1c1c" stroke-width="0.2">0.4</text>
<line x1="405.70" y1="412.48" x2="408.10" y2="412.48" stroke="#111111" stroke-width="1.25"/>
<text x="403.90" y="414.38" font-size="8.6" text-anchor="end" stroke="#1c1c1c" stroke-width="0.2">0.6</text>
<line x1="405.70" y1="392.64" x2="408.10" y2="392.64" stroke="#111111" stroke-width="1.25"/>
<text x="403.90" y="394.54" font-size="8.6" text-anchor="end" stroke="#1c1c1c" stroke-width="0.2">0.8</text>
<line x1="405.70" y1="372.80" x2="408.10" y2="372.80" stroke="#111111" stroke-width="1.25"/>
<text x="403.90" y="374.70" font-size="8.6" text-anchor="end" stroke="#1c1c1c" stroke-width="0.2">1.0</text>
<line x1="425.00" y1="472.00" x2="425.00" y2="474.90" stroke="#111111" stroke-width="1.25"/>
<line x1="457.80" y1="472.00" x2="457.80" y2="474.90" stroke="#111111" stroke-width="1.25"/>
<polyline points="425.00,379.55 457.80,373.89" fill="none" stroke="#111111" stroke-width="0.9"/>
<polyline points="425.00,441.94 457.80,375.08" fill="none" stroke="#111111" stroke-width="0.9"/>
<rect x="423.35" y="377.90" width="3.3" height="3.3" fill="#111111"/>
<rect x="456.15" y="372.24" width="3.3" height="3.3" fill="#111111"/>
<circle cx="425.00" cy="441.94" r="1.75" fill="#111111"/>
<circle cx="457.80" cy="375.08" r="1.75" fill="#111111"/>
<text x="422.90" y="365.00" font-size="8.2" textLength="32.80" lengthAdjust="spacing" stroke="#1c1c1c" stroke-width="0.18">Patient 3</text>
<text font-size="9.2" stroke="#0c0c0c" stroke-width="0.3" text-anchor="start" textLength="92.00" lengthAdjust="spacing" transform="translate(384.20,468.20) rotate(-90)" fill="#0c0c0c">Simpson's index of diversity</text>
<text font-size="8.8" stroke="#1c1c1c" stroke-width="0.2" text-anchor="end" transform="translate(427.30,479.20) rotate(-45)" textLength="41.34" lengthAdjust="spacing">Pre 4 months</text>
<text font-size="8.8" stroke="#1c1c1c" stroke-width="0.2" text-anchor="end" transform="translate(460.10,479.20) rotate(-45)" textLength="42.50" lengthAdjust="spacing">Post 12 years</text>
<text x="414.40" y="520.50" font-size="8.6" textLength="53.00" lengthAdjust="spacing" stroke="#1c1c1c" stroke-width="0.18">Time to aSCT</text>
</g>
<g>
<path d="M407.00 548.20V647.10H472.60" fill="none" stroke="#111111" stroke-width="1.4" stroke-linejoin="miter"/>
<line x1="404.60" y1="647.10" x2="407.00" y2="647.10" stroke="#111111" stroke-width="1.25"/>
<text x="402.70" y="649.00" font-size="8.5" text-anchor="end" stroke="#1c1c1c" stroke-width="0.2">0.0</text>
<line x1="404.60" y1="627.44" x2="407.00" y2="627.44" stroke="#111111" stroke-width="1.25"/>
<text x="402.70" y="629.34" font-size="8.5" text-anchor="end" stroke="#1c1c1c" stroke-width="0.2">0.2</text>
<line x1="404.60" y1="607.78" x2="407.00" y2="607.78" stroke="#111111" stroke-width="1.25"/>
<text x="402.70" y="609.68" font-size="8.5" text-anchor="end" stroke="#1c1c1c" stroke-width="0.2">0.4</text>
<line x1="404.60" y1="588.12" x2="407.00" y2="588.12" stroke="#111111" stroke-width="1.25"/>
<text x="402.70" y="590.02" font-size="8.5" text-anchor="end" stroke="#1c1c1c" stroke-width="0.2">0.6</text>
<line x1="404.60" y1="568.46" x2="407.00" y2="568.46" stroke="#111111" stroke-width="1.25"/>
<text x="402.70" y="570.36" font-size="8.5" text-anchor="end" stroke="#1c1c1c" stroke-width="0.2">0.8</text>
<line x1="404.60" y1="548.80" x2="407.00" y2="548.80" stroke="#111111" stroke-width="1.25"/>
<text x="402.70" y="550.70" font-size="8.5" text-anchor="end" stroke="#1c1c1c" stroke-width="0.2">1.0</text>
<line x1="423.30" y1="647.10" x2="423.30" y2="650.00" stroke="#111111" stroke-width="1.25"/>
<line x1="456.10" y1="647.10" x2="456.10" y2="650.00" stroke="#111111" stroke-width="1.25"/>
<polyline points="423.30,564.43 456.10,550.27" fill="none" stroke="#111111" stroke-width="0.9"/>
<polyline points="423.30,579.57 456.10,640.12" fill="none" stroke="#111111" stroke-width="0.9"/>
<rect x="421.65" y="562.78" width="3.3" height="3.3" fill="#111111"/>
<rect x="454.45" y="548.62" width="3.3" height="3.3" fill="#111111"/>
<circle cx="423.30" cy="579.57" r="1.75" fill="#111111"/>
<circle cx="456.10" cy="640.12" r="1.75" fill="#111111"/>
<text x="421.80" y="538.30" font-size="8.2" textLength="33.90" lengthAdjust="spacing" stroke="#1c1c1c" stroke-width="0.18">Patient 4</text>
<text font-size="9.2" stroke="#0c0c0c" stroke-width="0.3" text-anchor="start" textLength="90.60" lengthAdjust="spacing" transform="translate(383.00,648.00) rotate(-90)" fill="#0c0c0c">Simpson's index of diversity</text>
<text font-size="8.8" stroke="#1c1c1c" stroke-width="0.2" text-anchor="end" transform="translate(425.60,654.30) rotate(-45)" textLength="41.34" lengthAdjust="spacing">Pre 7 months</text>
<text font-size="8.8" stroke="#1c1c1c" stroke-width="0.2" text-anchor="end" transform="translate(458.40,654.30) rotate(-45)" textLength="48.30" lengthAdjust="spacing">Post 18 months</text>
<text x="414.40" y="695.50" font-size="8.6" textLength="51.90" lengthAdjust="spacing" stroke="#1c1c1c" stroke-width="0.18">Time to aSCT</text>
</g>
<line x1="473.6" y1="27.1" x2="481.8" y2="27.1" stroke="#111111" stroke-width="1.1"/>
<circle cx="477.7" cy="27.1" r="1.7" fill="#111111"/>
<line x1="473.6" y1="36.2" x2="481.8" y2="36.2" stroke="#111111" stroke-width="1.1"/>
<rect x="476.1" y="34.6" width="3.2" height="3.2" fill="#111111"/>
<text x="483.20" y="29.20" font-size="8.6" textLength="16.80" lengthAdjust="spacing" stroke="#1c1c1c" stroke-width="0.18">Treg</text>
<text x="483.20" y="38.20" font-size="8.6" textLength="35.60" lengthAdjust="spacing" stroke="#1c1c1c" stroke-width="0.18">Non-Treg</text>
</svg></body></html>
